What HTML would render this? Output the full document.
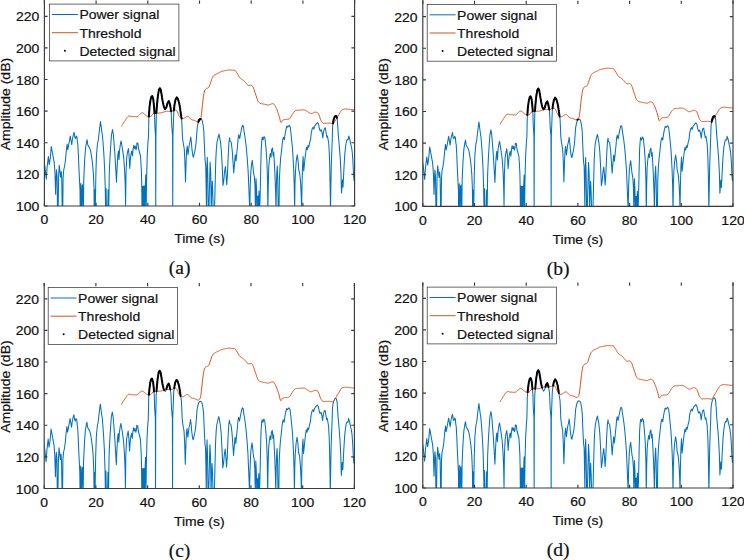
<!DOCTYPE html>
<html><head><meta charset="utf-8"><title>Detection thresholds</title>
<style>html,body{margin:0;padding:0;background:#fff;font-family:"Liberation Sans",sans-serif}svg{display:block}.t{font-family:"Liberation Sans",sans-serif;fill:#111;stroke:#111;stroke-width:0.2px}.cap{font-family:"Liberation Serif",serif;font-size:19.6px;fill:#111;stroke:#111;stroke-width:0.2px}</style></head>
<body>
<svg width="744" height="560" viewBox="0 0 744 560">
<rect width="744" height="560" fill="#fff"/>
<clipPath id="c0"><rect x="44.40" y="0.50" width="310.20" height="205.50"/></clipPath>
<g clip-path="url(#c0)" fill="none" stroke-linejoin="round">
<path d="M44.00 160.38 L45.00 167.25 L46.25 179.12 L47.12 167.25 L48.38 156.62 L49.25 164.75 L50.25 158.50 L51.25 146.62 L52.12 151.00 L53.00 156.00 L54.25 162.88 L55.00 173.50 L55.62 194.12 L56.12 178.50 L56.50 169.75 L57.12 176.00 L57.50 211.00 L58.12 211.00 L58.62 177.25 L59.25 165.38 L60.00 172.25 L60.62 177.25 L61.25 171.62 L61.75 178.50 L62.25 211.00 L62.75 211.00 L63.12 177.25 L63.75 169.75 L64.62 166.00 L65.50 159.75 L66.25 151.00 L67.12 144.12 L67.75 149.75 L68.38 146.62 L69.38 141.00 L70.25 136.00 L70.88 139.75 L71.75 144.75 L72.50 138.50 L73.38 134.75 L74.12 132.25 L74.75 137.25 L75.50 138.50 L76.25 136.00 L77.00 137.25 L77.50 143.50 L77.75 143.50 L78.38 154.75 L79.00 169.75 L79.62 182.25 L80.00 189.75 L80.25 211.00 L80.62 211.00 L80.88 183.50 L81.25 211.00 L81.62 211.00 L82.12 186.00 L82.50 184.75 L83.12 211.00 L83.38 211.00 L83.75 179.75 L84.62 161.00 L85.50 148.50 L86.50 142.25 L87.12 139.75 L87.75 144.75 L88.75 146.62 L89.62 147.88 L90.50 150.38 L91.50 156.00 L92.50 163.50 L93.38 173.50 L94.00 188.50 L94.25 211.00 L94.50 211.00 L94.62 189.75 L94.88 211.00 L95.25 211.00 L95.88 173.50 L96.50 154.75 L97.50 143.50 L98.38 139.75 L99.00 133.50 L99.62 128.50 L100.50 121.62 L101.25 127.25 L101.88 132.25 L102.50 136.00 L103.00 142.25 L103.75 152.25 L104.62 168.50 L105.25 188.50 L105.62 211.00 L106.12 188.50 L106.50 211.00 L107.75 211.00 L108.12 189.75 L108.75 211.00 L109.25 173.50 L110.00 157.25 L110.88 143.50 L111.50 134.75 L112.50 129.50 L113.38 134.75 L114.25 146.00 L115.00 156.00 L115.88 171.00 L116.50 182.25 L117.12 167.25 L117.75 156.00 L118.38 151.00 L119.00 159.75 L119.62 149.75 L120.50 143.50 L121.12 141.00 L121.75 144.75 L122.75 151.00 L123.75 158.50 L124.62 171.00 L125.25 186.00 L125.62 205.50 L126.00 173.50 L126.75 157.25 L127.50 152.25 L128.38 148.50 L129.00 154.75 L129.75 168.50 L130.25 161.00 L130.88 154.75 L131.75 151.00 L132.50 156.00 L133.00 149.75 L133.75 145.38 L134.50 148.50 L135.25 146.00 L136.00 149.75 L136.62 147.25 L137.00 142.88 L138.00 143.50 L138.50 148.50 L139.50 152.25 L140.50 156.00 L141.00 163.50 L141.50 173.50 L141.75 186.00 L142.00 211.00 L142.25 186.00 L142.62 211.00 L143.25 186.00 L143.62 211.00 L144.25 186.00 L144.75 211.00 L145.25 186.00 L145.75 174.75 L146.12 211.00 L146.50 186.00 L146.75 173.50 L147.25 154.75 L148.00 142.25 L148.50 136.00 L148.88 116.00 L149.50 107.25 L150.50 99.75 L151.38 96.62 L152.25 96.00 L153.25 99.12 L153.88 104.75 L154.50 112.88 L154.88 126.00 L155.56 136.00 L155.75 211.00 L155.94 136.00 L156.38 112.88 L157.00 104.75 L157.88 96.00 L158.88 89.75 L159.88 88.12 L160.75 89.75 L161.62 94.75 L162.62 101.00 L163.88 106.62 L165.12 109.12 L166.38 107.25 L167.62 102.88 L168.88 101.00 L169.75 103.50 L170.50 107.25 L171.12 111.00 L171.75 126.00 L172.56 136.00 L172.75 211.00 L172.94 136.00 L173.88 110.38 L174.50 104.75 L175.50 99.75 L176.75 97.25 L178.00 99.12 L179.25 103.50 L180.12 108.50 L181.00 114.75 L181.62 118.50 L182.00 126.00 L182.38 136.00 L182.75 139.75 L183.50 144.75 L184.25 148.50 L184.88 161.00 L185.50 181.62 L186.12 161.00 L186.62 151.00 L187.25 146.00 L188.00 154.75 L188.62 149.75 L189.25 144.75 L190.12 141.00 L190.75 137.00 L191.38 142.25 L192.00 149.75 L192.88 156.00 L193.50 157.25 L194.25 153.50 L195.12 149.75 L196.00 143.50 L196.62 136.00 L197.25 127.25 L198.12 122.88 L199.00 120.00 L199.88 119.12 L200.75 118.88 L201.62 119.38 L202.38 121.00 L203.25 126.00 L203.88 132.25 L204.25 142.25 L204.62 151.00 L205.12 161.00 L205.75 166.00 L206.12 186.00 L206.50 211.00 L206.75 173.50 L207.25 157.25 L207.75 173.50 L208.25 211.00 L208.88 211.00 L209.50 186.00 L210.12 162.25 L210.75 173.50 L211.25 211.00 L211.75 192.25 L212.25 181.00 L212.75 192.25 L213.25 211.00 L214.50 211.00 L215.12 186.00 L215.75 161.00 L216.38 148.50 L217.00 142.25 L218.00 137.88 L219.00 134.12 L219.75 137.88 L220.50 142.25 L221.38 151.00 L222.25 167.25 L223.00 185.38 L223.88 179.75 L224.50 172.25 L225.38 166.62 L226.00 173.50 L226.75 184.75 L227.50 173.50 L228.25 154.75 L229.00 142.25 L229.62 137.88 L230.00 141.00 L231.25 142.25 L232.25 151.00 L233.12 163.50 L233.75 172.88 L234.50 163.50 L235.25 154.75 L236.00 161.00 L236.88 152.25 L237.75 143.50 L238.12 138.50 L238.75 134.75 L239.75 138.50 L240.62 133.50 L241.62 128.50 L242.50 125.38 L243.38 126.00 L244.00 131.00 L245.00 137.25 L245.50 141.00 L246.25 147.25 L247.25 158.50 L248.12 171.00 L248.75 186.00 L249.38 201.00 L249.75 211.00 L250.25 186.00 L250.88 171.00 L251.50 164.75 L252.25 160.38 L252.88 166.00 L253.50 172.25 L254.38 177.25 L255.00 186.00 L255.50 211.00 L256.00 178.50 L256.50 188.50 L257.00 211.00 L257.75 196.00 L258.25 211.00 L259.00 191.00 L259.50 211.00 L260.00 201.00 L260.38 186.00 L260.75 167.25 L261.25 148.50 L261.88 139.75 L262.25 137.25 L263.12 139.75 L264.00 136.62 L265.00 138.50 L266.00 148.50 L266.88 161.00 L267.50 179.75 L267.88 211.00 L268.25 186.00 L268.75 167.25 L269.38 159.75 L270.25 153.50 L271.00 157.25 L271.62 149.75 L272.50 147.88 L273.12 156.00 L273.75 152.25 L274.38 163.50 L275.00 176.00 L275.62 192.25 L276.00 211.00 L276.38 186.00 L276.75 173.50 L277.25 166.00 L277.75 179.75 L278.25 211.00 L279.00 211.00 L279.38 179.75 L280.00 167.25 L280.62 158.50 L281.50 151.00 L282.25 143.50 L282.75 139.75 L283.50 137.25 L284.38 139.75 L285.00 134.75 L285.88 129.75 L286.88 126.00 L287.75 127.25 L288.50 126.00 L289.38 125.38 L290.25 127.25 L291.00 133.50 L291.88 142.25 L292.50 148.50 L293.12 158.50 L293.75 171.00 L294.25 186.00 L294.62 211.00 L295.00 183.50 L295.50 171.00 L296.25 161.00 L297.25 154.75 L298.12 161.00 L298.75 169.75 L299.75 173.50 L300.62 183.50 L301.25 196.00 L301.62 211.00 L302.00 186.00 L302.50 167.25 L303.12 156.62 L303.75 171.00 L304.38 164.75 L305.00 158.50 L305.75 152.25 L306.50 147.25 L307.25 149.75 L308.00 145.38 L308.75 147.25 L309.75 142.25 L310.62 139.12 L311.25 132.88 L312.25 128.50 L313.12 127.25 L313.75 129.12 L314.75 126.00 L316.00 124.12 L317.50 122.50 L318.50 124.12 L319.38 128.50 L320.25 131.00 L321.25 129.75 L322.25 133.50 L322.75 137.88 L323.50 132.25 L324.38 128.50 L325.25 127.88 L326.00 132.25 L326.88 137.25 L327.50 136.00 L328.12 139.75 L328.75 143.50 L329.38 154.75 L329.75 167.25 L330.12 186.00 L330.50 211.00 L330.88 186.00 L331.25 167.25 L331.88 148.50 L332.25 139.75 L332.62 126.00 L333.12 122.25 L333.75 119.12 L334.75 116.62 L335.62 115.75 L336.50 116.25 L337.25 119.12 L337.75 126.00 L338.38 136.00 L338.88 141.00 L339.50 148.50 L340.25 158.50 L341.00 173.50 L341.50 192.88 L342.00 186.00 L342.50 179.75 L343.00 187.25 L343.50 177.25 L344.00 167.25 L344.75 154.75 L345.62 146.00 L346.50 141.00 L347.25 139.50 L348.12 139.75 L348.75 136.00 L349.75 139.12 L350.62 143.50 L351.50 147.25 L352.25 152.25 L352.88 161.00 L353.50 173.50 L354.00 180.38 L354.50 174.75" stroke="#0072BD" stroke-width="1.05"/>
<path d="M121.50 126.40 L122.00 125.51 L122.50 124.67 L123.00 123.85 L123.50 123.06 L124.00 122.28 L124.50 121.52 L125.00 120.77 L125.50 120.02 L126.00 119.24 L126.50 118.47 L127.00 117.74 L127.50 117.09 L128.00 116.55 L128.50 116.18 L129.00 116.00 L129.50 115.99 L130.00 116.07 L130.50 116.20 L131.00 116.32 L131.50 116.40 L132.00 116.44 L132.50 116.49 L133.00 116.53 L133.50 116.58 L134.00 116.62 L134.50 116.65 L135.00 116.68 L135.50 116.68 L136.00 116.68 L136.50 116.65 L137.00 116.60 L137.50 116.44 L138.00 116.13 L138.50 115.73 L139.00 115.31 L139.50 114.81 L140.00 114.25 L140.50 113.72 L141.00 113.31 L141.50 113.00 L142.00 112.83 L142.50 112.87 L143.00 113.08 L143.50 113.37 L144.00 113.72 L144.50 114.10 L145.00 114.53 L145.50 114.99 L146.00 115.43 L146.50 115.82 L147.00 116.12 L147.50 116.35 L148.00 116.53 L148.50 116.66 L149.00 116.71 L149.50 116.70 L150.00 116.62 L150.50 116.47 L151.00 116.20 L151.50 115.83 L152.00 115.40 L152.50 114.59 L153.00 113.69 L153.50 113.46 L154.00 113.40 L154.50 113.34 L155.00 113.30 L155.50 113.27 L156.00 113.23 L156.50 113.21 L157.00 113.18 L157.50 113.15 L158.00 113.12 L158.50 113.08 L159.00 113.05 L159.50 113.02 L160.00 112.98 L160.50 112.93 L161.00 112.86 L161.50 112.76 L162.00 112.63 L162.50 112.48 L163.00 112.32 L163.50 112.17 L164.00 112.00 L164.50 111.81 L165.00 111.62 L165.50 111.46 L166.00 111.35 L166.50 111.28 L167.00 111.25 L167.50 111.25 L168.00 111.25 L168.50 111.26 L169.00 111.29 L169.50 111.35 L170.00 111.40 L170.50 111.41 L171.00 111.37 L171.50 111.28 L172.00 111.14 L172.50 110.99 L173.00 110.83 L173.50 110.67 L174.00 110.46 L174.50 110.24 L175.00 110.03 L175.50 109.95 L176.00 110.12 L176.50 110.49 L177.00 111.15 L177.50 112.05 L178.00 113.19 L178.50 114.50 L179.00 115.59 L179.50 116.42 L180.00 117.11 L180.50 117.67 L181.00 118.11 L181.50 118.48 L182.00 118.72 L182.50 118.77 L183.00 118.63 L183.50 118.43 L184.00 118.19 L184.50 117.90 L185.00 117.57 L185.50 117.21 L186.00 116.86 L186.50 116.54 L187.00 116.32 L187.50 116.25 L188.00 116.36 L188.50 116.66 L189.00 117.09 L189.50 117.67 L190.00 118.32 L190.50 118.89 L191.00 119.27 L191.50 119.56 L192.00 119.79 L192.50 119.97 L193.00 120.09 L193.50 120.16 L194.00 120.25 L194.50 120.40 L195.00 120.62 L195.50 120.84 L196.00 121.07 L196.50 121.29 L197.00 121.51 L197.50 121.71 L198.00 121.90 L198.50 122.03 L199.00 121.77 L199.50 121.23 L200.00 120.60 L200.50 119.73 L201.00 117.50 L201.50 113.59 L202.00 109.08 L202.50 104.34 L203.00 99.96 L203.50 96.29 L204.00 93.26 L204.50 91.04 L205.00 89.83 L205.50 89.14 L206.00 88.66 L206.50 88.39 L207.00 88.26 L207.50 88.15 L208.00 87.96 L208.50 87.65 L209.00 87.10 L209.50 85.97 L210.00 84.41 L210.50 82.80 L211.00 81.31 L211.50 79.85 L212.00 78.49 L212.50 77.34 L213.00 76.46 L213.50 75.83 L214.00 75.40 L214.50 75.04 L215.00 74.70 L215.50 74.39 L216.00 74.12 L216.50 73.89 L217.00 73.67 L217.50 73.46 L218.00 73.24 L218.50 73.02 L219.00 72.77 L219.50 72.47 L220.00 72.14 L220.50 71.84 L221.00 71.59 L221.50 71.43 L222.00 71.29 L222.50 71.17 L223.00 71.06 L223.50 70.95 L224.00 70.85 L224.50 70.74 L225.00 70.63 L225.50 70.53 L226.00 70.42 L226.50 70.33 L227.00 70.23 L227.50 70.15 L228.00 70.09 L228.50 70.04 L229.00 70.01 L229.50 70.00 L230.00 70.00 L230.50 70.03 L231.00 70.07 L231.50 70.14 L232.00 70.20 L232.50 70.25 L233.00 70.26 L233.50 70.24 L234.00 70.21 L234.50 70.22 L235.00 70.34 L235.50 70.80 L236.00 71.50 L236.50 72.31 L237.00 73.15 L237.50 74.00 L238.00 74.87 L238.50 75.74 L239.00 76.60 L239.50 77.36 L240.00 77.96 L240.50 78.42 L241.00 78.78 L241.50 79.10 L242.00 79.41 L242.50 79.75 L243.00 80.11 L243.50 80.48 L244.00 80.88 L244.50 81.35 L245.00 81.90 L245.50 82.50 L246.00 83.10 L246.50 83.73 L247.00 84.40 L247.50 85.00 L248.00 85.39 L248.50 85.55 L249.00 85.59 L249.50 85.60 L250.00 85.52 L250.50 85.36 L251.00 85.25 L251.50 85.31 L252.00 85.66 L252.50 86.25 L253.00 87.02 L253.50 88.07 L254.00 89.50 L254.50 91.00 L255.00 92.50 L255.50 94.00 L256.00 95.50 L256.50 97.00 L257.00 98.50 L257.50 100.00 L258.00 101.21 L258.50 101.98 L259.00 102.49 L259.50 102.93 L260.00 103.27 L260.50 103.48 L261.00 103.58 L261.50 103.68 L262.00 103.78 L262.50 103.88 L263.00 103.98 L263.50 104.08 L264.00 104.18 L264.50 104.28 L265.00 104.38 L265.50 104.48 L266.00 104.58 L266.50 104.68 L267.00 104.78 L267.50 104.88 L268.00 104.98 L268.50 105.01 L269.00 104.89 L269.50 104.69 L270.00 104.50 L270.50 104.32 L271.00 104.11 L271.50 103.90 L272.00 103.72 L272.50 103.64 L273.00 103.68 L273.50 103.86 L274.00 104.19 L274.50 104.79 L275.00 105.60 L275.50 106.52 L276.00 107.54 L276.50 108.69 L277.00 109.92 L277.50 111.25 L278.00 112.69 L278.50 114.21 L279.00 115.82 L279.50 117.60 L280.00 119.65 L280.50 122.06 L281.00 122.57 L281.50 122.13 L282.00 121.47 L282.50 120.69 L283.00 120.06 L283.50 119.83 L284.00 119.66 L284.50 119.56 L285.00 119.50 L285.50 119.47 L286.00 119.45 L286.50 119.43 L287.00 119.39 L287.50 119.34 L288.00 119.27 L288.50 119.17 L289.00 119.00 L289.50 118.62 L290.00 118.07 L290.50 117.40 L291.00 116.62 L291.50 115.77 L292.00 114.90 L292.50 114.10 L293.00 113.37 L293.50 112.68 L294.00 112.05 L294.50 111.50 L295.00 111.03 L295.50 110.68 L296.00 110.46 L296.50 110.37 L297.00 110.31 L297.50 110.26 L298.00 110.21 L298.50 110.18 L299.00 110.15 L299.50 110.12 L300.00 110.10 L300.50 110.07 L301.00 110.02 L301.50 109.97 L302.00 109.92 L302.50 109.87 L303.00 109.85 L303.50 109.85 L304.00 109.89 L304.50 109.97 L305.00 110.10 L305.50 110.32 L306.00 110.63 L306.50 110.97 L307.00 111.32 L307.50 111.65 L308.00 111.99 L308.50 112.33 L309.00 112.66 L309.50 112.97 L310.00 113.24 L310.50 113.46 L311.00 113.59 L311.50 113.56 L312.00 113.42 L312.50 113.25 L313.00 113.01 L313.50 112.71 L314.00 112.42 L314.50 112.22 L315.00 112.15 L315.50 112.16 L316.00 112.22 L316.50 112.29 L317.00 112.45 L317.50 112.72 L318.00 113.14 L318.50 113.85 L319.00 114.96 L319.50 116.28 L320.00 117.93 L320.50 119.50 L321.00 120.58 L321.50 121.43 L322.00 122.14 L322.50 122.82 L323.00 123.23 L323.50 123.27 L324.00 123.28 L324.50 123.28 L325.00 123.27 L325.50 123.25 L326.00 123.23 L326.50 123.21 L327.00 123.18 L327.50 123.15 L328.00 123.13 L328.50 123.11 L329.00 123.10 L329.50 123.12 L330.00 123.17 L330.50 123.23 L331.00 123.31 L331.50 123.38 L332.00 123.45 L332.50 123.50 L333.00 123.57 L333.50 123.48 L334.00 122.88 L334.50 121.94 L335.00 121.00 L335.50 120.19 L336.00 119.38 L336.50 118.57 L337.00 117.73 L337.50 116.88 L338.00 116.03 L338.50 115.18 L339.00 114.32 L339.50 113.47 L340.00 112.62 L340.50 111.77 L341.00 111.00 L341.50 110.45 L342.00 110.05 L342.50 109.75 L343.00 109.50 L343.50 109.29 L344.00 109.15 L344.50 109.09 L345.00 109.07 L345.50 109.05 L346.00 109.03 L346.50 109.04 L347.00 109.06 L347.50 109.10 L348.00 109.16 L348.50 109.23 L349.00 109.30 L349.50 109.37 L350.00 109.44 L350.50 109.49 L351.00 109.53 L351.50 109.57 L352.00 109.61 L352.50 109.65 L353.00 109.68 L353.50 109.71 L354.00 109.73 L354.50 109.75" stroke="#D95319" stroke-width="1"/>
<path d="M148.86 116.60 L148.87 116.20 L148.89 115.80 L148.92 115.40 L148.95 115.00 L148.97 114.60 L149.00 114.20 L149.03 113.80 L149.06 113.40 L149.09 113.01 L149.12 112.61 L149.15 112.21 L149.17 111.81 L149.20 111.41 L149.23 111.01 L149.26 110.61 L149.29 110.21 L149.32 109.81 L149.35 109.41 L149.37 109.02 L149.40 108.62 L149.43 108.22 L149.46 107.82 L149.49 107.42 L149.53 107.02 L149.58 106.63 L149.64 106.23 L149.69 105.83 L149.74 105.44 L149.79 105.04 L149.85 104.64 L149.90 104.25 L149.95 103.85 L150.01 103.45 L150.06 103.06 L150.11 102.66 L150.16 102.26 L150.22 101.87 L150.27 101.47 L150.32 101.08 L150.38 100.68 L150.43 100.28 L150.48 99.89 L150.57 99.50 L150.68 99.11 L150.79 98.73 L150.89 98.34 L151.00 97.96 L151.11 97.57 L151.22 97.19 L151.33 96.80 L151.55 96.50 L151.88 96.27 L152.20 96.03 L152.35 96.33 L152.48 96.71 L152.60 97.09 L152.72 97.47 L152.84 97.85 L152.96 98.23 L153.09 98.61 L153.21 98.99 L153.28 99.39 L153.32 99.78 L153.37 100.18 L153.41 100.58 L153.46 100.98 L153.50 101.37 L153.54 101.77 L153.59 102.17 L153.63 102.57 L153.68 102.96 L153.72 103.36 L153.76 103.76 L153.81 104.16 L153.85 104.55 L153.89 104.95 L153.92 105.35 L153.95 105.75 L153.98 106.15 L154.01 106.55 L154.04 106.95 L154.07 107.34 L154.11 107.74 L154.14 108.14 L154.17 108.54 L154.20 108.94 L154.23 109.34 L154.26 109.74 L154.29 110.14 L154.32 110.53 L154.35 110.93 L154.38 111.33 L154.41 111.73 L154.44 112.13 L154.47 112.53 L154.50 112.93 L154.51 113.33 M156.37 113.11 L156.39 112.71 L156.42 112.31 L156.45 111.91 L156.48 111.51 L156.51 111.11 L156.54 110.71 L156.57 110.31 L156.60 109.91 L156.63 109.52 L156.66 109.12 L156.69 108.72 L156.73 108.32 L156.76 107.92 L156.79 107.52 L156.82 107.12 L156.85 106.72 L156.88 106.32 L156.91 105.93 L156.94 105.53 L156.97 105.13 L157.00 104.73 L157.04 104.33 L157.08 103.93 L157.12 103.54 L157.16 103.14 L157.20 102.74 L157.24 102.34 L157.28 101.94 L157.32 101.55 L157.36 101.15 L157.40 100.75 L157.44 100.35 L157.48 99.95 L157.52 99.56 L157.56 99.16 L157.60 98.76 L157.64 98.36 L157.68 97.96 L157.72 97.57 L157.76 97.17 L157.80 96.77 L157.84 96.37 L157.88 95.97 L157.94 95.58 L158.01 95.18 L158.07 94.79 L158.13 94.39 L158.20 94.00 L158.26 93.60 L158.32 93.21 L158.38 92.81 L158.45 92.42 L158.51 92.02 L158.57 91.63 L158.64 91.23 L158.70 90.84 L158.76 90.44 L158.83 90.05 L158.93 89.67 L159.14 89.33 L159.35 88.99 L159.55 88.65 L159.76 88.30 L159.96 88.29 L160.15 88.64 L160.34 89.00 L160.53 89.35 L160.72 89.70 L160.81 90.09 L160.88 90.48 L160.95 90.88 L161.02 91.27 L161.09 91.66 L161.15 92.06 L161.22 92.45 L161.29 92.85 L161.36 93.24 L161.43 93.63 L161.50 94.03 L161.57 94.42 L161.64 94.82 L161.70 95.21 L161.76 95.61 L161.83 96.00 L161.89 96.40 L161.95 96.79 L162.01 97.19 L162.08 97.58 L162.14 97.98 L162.20 98.37 L162.27 98.77 L162.33 99.16 L162.39 99.56 L162.46 99.95 L162.52 100.35 L162.58 100.74 L162.65 101.13 L162.74 101.53 L162.83 101.92 L162.92 102.31 L163.00 102.70 L163.09 103.09 L163.18 103.48 L163.26 103.87 L163.35 104.26 L163.44 104.65 L163.52 105.04 L163.61 105.43 L163.70 105.82 L163.78 106.21 L163.87 106.60 L164.04 106.96 L164.22 107.32 L164.40 107.68 L164.58 108.03 L164.76 108.39 L164.94 108.75 L165.12 109.11 L165.34 108.81 L165.56 108.48 L165.78 108.14 L166.00 107.81 L166.22 107.48 L166.41 107.13 L166.52 106.74 L166.63 106.36 L166.74 105.97 L166.85 105.59 L166.96 105.20 L167.07 104.82 L167.18 104.44 L167.29 104.05 L167.40 103.67 L167.51 103.28 L167.62 102.90 L167.83 102.56 L168.06 102.23 L168.28 101.90 L168.50 101.56 L168.72 101.23 L168.92 101.12 L169.05 101.49 L169.18 101.87 L169.31 102.25 L169.44 102.63 L169.58 103.00 L169.71 103.38 L169.80 103.77 L169.88 104.16 L169.96 104.55 L170.04 104.95 L170.12 105.34 L170.20 105.73 L170.27 106.12 L170.35 106.52 L170.43 106.91 L170.51 107.30 L170.57 107.69 L170.64 108.09 L170.71 108.48 L170.77 108.88 L170.84 109.27 L170.90 109.67 L170.97 110.06 L171.03 110.46 L171.10 110.85 L171.14 111.25 M173.87 110.41 L173.91 110.02 L173.96 109.62 L174.00 109.22 L174.05 108.82 L174.09 108.43 L174.14 108.03 L174.18 107.63 L174.22 107.23 L174.27 106.84 L174.31 106.44 L174.36 106.04 L174.40 105.64 L174.44 105.25 L174.49 104.85 L174.56 104.45 L174.64 104.06 L174.72 103.67 L174.79 103.28 L174.87 102.89 L174.95 102.49 L175.03 102.10 L175.11 101.71 L175.19 101.32 L175.27 100.92 L175.34 100.53 L175.42 100.14 L175.50 99.75 L175.68 99.39 L175.86 99.03 L176.04 98.67 L176.22 98.32 L176.40 97.96 L176.57 97.60 L176.75 97.26 L176.98 97.59 L177.20 97.92 L177.42 98.25 L177.64 98.59 L177.86 98.92 L178.04 99.27 L178.15 99.66 L178.26 100.04 L178.37 100.43 L178.48 100.81 L178.59 101.20 L178.70 101.58 L178.81 101.96 L178.92 102.35 L179.03 102.73 L179.14 103.12 L179.25 103.50 L179.32 103.90 L179.39 104.29 L179.46 104.69 L179.53 105.08 L179.60 105.47 L179.66 105.87 L179.73 106.26 L179.80 106.66 L179.87 107.05 L179.94 107.44 L180.01 107.84 L180.08 108.23 L180.14 108.63 L180.20 109.02 L180.25 109.42 L180.31 109.81 L180.36 110.21 L180.42 110.61 L180.48 111.00 L180.53 111.40 L180.59 111.80 L180.64 112.19 L180.70 112.59 L180.75 112.98 L180.81 113.38 L180.86 113.78 L180.92 114.17 L180.97 114.57 L181.04 114.96 L181.10 115.36 L181.17 115.75 L181.23 116.15 L181.30 116.54 L181.36 116.94 L181.43 117.33 L181.50 117.73 L181.56 118.12 L181.63 118.51 M198.41 121.93 L198.53 121.55 L198.65 121.17 L198.76 120.78 L198.88 120.40 L198.99 120.02 L199.27 119.73 L199.55 119.45 L199.84 119.16 L200.21 119.03 L200.59 118.92 M332.97 123.38 L333.03 122.99 L333.08 122.59 L333.14 122.19 L333.21 121.80 L333.29 121.41 L333.37 121.02 L333.45 120.63 L333.53 120.23 L333.61 119.84 L333.69 119.45 L333.78 119.06 L333.92 118.69 L334.07 118.32 L334.22 117.95 L334.37 117.57 L334.52 117.20 L334.67 116.83 L334.88 116.50 L335.16 116.22 L335.44 115.93 L335.75 115.82 L336.09 116.02 L336.44 116.22 L336.58 116.57 L336.68 116.96 L336.79 117.35 L336.89 117.73" stroke="#000" stroke-width="2.0" stroke-linecap="round"/>
</g>
<g stroke="#3a3a3a" stroke-width="1.15" fill="none">
<path d="M44.40 -1.50 V206.00 H354.60 V-1.50"/>
<path d="M44.40 206.00 v-3.20 M44.40 0.50 v3.20 M96.10 206.00 v-3.20 M96.10 0.50 v3.20 M147.80 206.00 v-3.20 M147.80 0.50 v3.20 M199.50 206.00 v-3.20 M199.50 0.50 v3.20 M251.20 206.00 v-3.20 M251.20 0.50 v3.20 M302.90 206.00 v-3.20 M302.90 0.50 v3.20 M354.60 206.00 v-3.20 M354.60 0.50 v3.20 M44.40 206.00 h3.20 M354.60 206.00 h-3.20 M44.40 174.38 h3.20 M354.60 174.38 h-3.20 M44.40 142.77 h3.20 M354.60 142.77 h-3.20 M44.40 111.15 h3.20 M354.60 111.15 h-3.20 M44.40 79.54 h3.20 M354.60 79.54 h-3.20 M44.40 47.92 h3.20 M354.60 47.92 h-3.20 M44.40 16.31 h3.20 M354.60 16.31 h-3.20 "/>
</g>
<g class="t" font-size="13.3">
<text transform="translate(44.40 224.30) scale(1.050 1)" text-anchor="middle">0</text>
<text transform="translate(96.10 224.30) scale(1.050 1)" text-anchor="middle">20</text>
<text transform="translate(147.80 224.30) scale(1.050 1)" text-anchor="middle">40</text>
<text transform="translate(199.50 224.30) scale(1.050 1)" text-anchor="middle">60</text>
<text transform="translate(251.20 224.30) scale(1.050 1)" text-anchor="middle">80</text>
<text transform="translate(302.90 224.30) scale(1.050 1)" text-anchor="middle">100</text>
<text transform="translate(354.60 224.30) scale(1.050 1)" text-anchor="middle">120</text>
<text transform="translate(39.20 211.00) scale(1.050 1)" text-anchor="end">100</text>
<text transform="translate(39.20 179.38) scale(1.050 1)" text-anchor="end">120</text>
<text transform="translate(39.20 147.77) scale(1.050 1)" text-anchor="end">140</text>
<text transform="translate(39.20 116.15) scale(1.050 1)" text-anchor="end">160</text>
<text transform="translate(39.20 84.54) scale(1.050 1)" text-anchor="end">180</text>
<text transform="translate(39.20 52.92) scale(1.050 1)" text-anchor="end">200</text>
<text transform="translate(39.20 21.31) scale(1.050 1)" text-anchor="end">220</text>
<text transform="translate(199.50 243.40) scale(1.050 1)" text-anchor="middle">Time (s)</text>
<text transform="translate(9.70 104.05) rotate(-90) scale(1.050 1)" text-anchor="middle">Amplitude (dB)</text>
<rect x="49.50" y="4.10" width="129.40" height="56.80" fill="#fff" stroke="#3a3a3a" stroke-width="0.75"/>
<path d="M51.90 14.50 h26" stroke="#0072BD" stroke-width="1"/>
<path d="M51.90 32.70 h26" stroke="#D95319" stroke-width="1"/>
<circle cx="64.90" cy="50.80" r="1.0" fill="#000" stroke="none"/>
<text transform="translate(79.40 19.30) scale(1.050 1)">Power signal</text>
<text transform="translate(79.40 37.50) scale(1.050 1)">Threshold</text>
<text transform="translate(79.40 55.70) scale(1.050 1)">Detected signal</text>
</g>
<text x="179.70" y="274.30" class="cap" text-anchor="middle">(a)</text>
<clipPath id="c1"><rect x="422.80" y="0.80" width="310.20" height="205.50"/></clipPath>
<g clip-path="url(#c1)" fill="none" stroke-linejoin="round">
<path d="M422.40 160.68 L423.40 167.55 L424.65 179.43 L425.53 167.55 L426.78 156.93 L427.65 165.05 L428.65 158.80 L429.65 146.93 L430.53 151.30 L431.40 156.30 L432.65 163.18 L433.40 173.80 L434.03 194.43 L434.53 178.80 L434.90 170.05 L435.53 176.30 L435.90 211.30 L436.53 211.30 L437.03 177.55 L437.65 165.68 L438.40 172.55 L439.03 177.55 L439.65 171.93 L440.15 178.80 L440.65 211.30 L441.15 211.30 L441.53 177.55 L442.15 170.05 L443.03 166.30 L443.90 160.05 L444.65 151.30 L445.53 144.43 L446.15 150.05 L446.78 146.93 L447.78 141.30 L448.65 136.30 L449.28 140.05 L450.15 145.05 L450.90 138.80 L451.78 135.05 L452.53 132.55 L453.15 137.55 L453.90 138.80 L454.65 136.30 L455.40 137.55 L455.90 143.80 L456.15 143.80 L456.78 155.05 L457.40 170.05 L458.03 182.55 L458.40 190.05 L458.65 211.30 L459.03 211.30 L459.28 183.80 L459.65 211.30 L460.03 211.30 L460.53 186.30 L460.90 185.05 L461.53 211.30 L461.78 211.30 L462.15 180.05 L463.03 161.30 L463.90 148.80 L464.90 142.55 L465.53 140.05 L466.15 145.05 L467.15 146.93 L468.03 148.18 L468.90 150.68 L469.90 156.30 L470.90 163.80 L471.78 173.80 L472.40 188.80 L472.65 211.30 L472.90 211.30 L473.03 190.05 L473.28 211.30 L473.65 211.30 L474.28 173.80 L474.90 155.05 L475.90 143.80 L476.78 140.05 L477.40 133.80 L478.03 128.80 L478.90 121.93 L479.65 127.55 L480.28 132.55 L480.90 136.30 L481.40 142.55 L482.15 152.55 L483.03 168.80 L483.65 188.80 L484.03 211.30 L484.53 188.80 L484.90 211.30 L486.15 211.30 L486.53 190.05 L487.15 211.30 L487.65 173.80 L488.40 157.55 L489.28 143.80 L489.90 135.05 L490.90 129.80 L491.78 135.05 L492.65 146.30 L493.40 156.30 L494.28 171.30 L494.90 182.55 L495.53 167.55 L496.15 156.30 L496.78 151.30 L497.40 160.05 L498.03 150.05 L498.90 143.80 L499.53 141.30 L500.15 145.05 L501.15 151.30 L502.15 158.80 L503.03 171.30 L503.65 186.30 L504.03 205.80 L504.40 173.80 L505.15 157.55 L505.90 152.55 L506.78 148.80 L507.40 155.05 L508.15 168.80 L508.65 161.30 L509.28 155.05 L510.15 151.30 L510.90 156.30 L511.40 150.05 L512.15 145.68 L512.90 148.80 L513.65 146.30 L514.40 150.05 L515.03 147.55 L515.40 143.18 L516.40 143.80 L516.90 148.80 L517.90 152.55 L518.90 156.30 L519.40 163.80 L519.90 173.80 L520.15 186.30 L520.40 211.30 L520.65 186.30 L521.03 211.30 L521.65 186.30 L522.03 211.30 L522.65 186.30 L523.15 211.30 L523.65 186.30 L524.15 175.05 L524.53 211.30 L524.90 186.30 L525.15 173.80 L525.65 155.05 L526.40 142.55 L526.90 136.30 L527.28 116.30 L527.90 107.55 L528.90 100.05 L529.78 96.93 L530.65 96.30 L531.65 99.43 L532.28 105.05 L532.90 113.18 L533.28 126.30 L533.96 136.30 L534.15 211.30 L534.34 136.30 L534.78 113.18 L535.40 105.05 L536.28 96.30 L537.28 90.05 L538.28 88.43 L539.15 90.05 L540.03 95.05 L541.03 101.30 L542.28 106.93 L543.53 109.43 L544.78 107.55 L546.03 103.18 L547.28 101.30 L548.15 103.80 L548.90 107.55 L549.53 111.30 L550.15 126.30 L550.96 136.30 L551.15 211.30 L551.34 136.30 L552.28 110.68 L552.90 105.05 L553.90 100.05 L555.15 97.55 L556.40 99.43 L557.65 103.80 L558.53 108.80 L559.40 115.05 L560.03 118.80 L560.40 126.30 L560.78 136.30 L561.15 140.05 L561.90 145.05 L562.65 148.80 L563.28 161.30 L563.90 181.93 L564.53 161.30 L565.03 151.30 L565.65 146.30 L566.40 155.05 L567.03 150.05 L567.65 145.05 L568.53 141.30 L569.15 137.30 L569.78 142.55 L570.40 150.05 L571.28 156.30 L571.90 157.55 L572.65 153.80 L573.53 150.05 L574.40 143.80 L575.03 136.30 L575.65 127.55 L576.53 123.18 L577.40 120.30 L578.28 119.43 L579.15 119.18 L580.03 119.68 L580.78 121.30 L581.65 126.30 L582.28 132.55 L582.65 142.55 L583.03 151.30 L583.53 161.30 L584.15 166.30 L584.53 186.30 L584.90 211.30 L585.15 173.80 L585.65 157.55 L586.15 173.80 L586.65 211.30 L587.28 211.30 L587.90 186.30 L588.53 162.55 L589.15 173.80 L589.65 211.30 L590.15 192.55 L590.65 181.30 L591.15 192.55 L591.65 211.30 L592.90 211.30 L593.53 186.30 L594.15 161.30 L594.78 148.80 L595.40 142.55 L596.40 138.18 L597.40 134.43 L598.15 138.18 L598.90 142.55 L599.78 151.30 L600.65 167.55 L601.40 185.68 L602.28 180.05 L602.90 172.55 L603.78 166.93 L604.40 173.80 L605.15 185.05 L605.90 173.80 L606.65 155.05 L607.40 142.55 L608.03 138.18 L608.40 141.30 L609.65 142.55 L610.65 151.30 L611.53 163.80 L612.15 173.18 L612.90 163.80 L613.65 155.05 L614.40 161.30 L615.28 152.55 L616.15 143.80 L616.53 138.80 L617.15 135.05 L618.15 138.80 L619.03 133.80 L620.03 128.80 L620.90 125.68 L621.78 126.30 L622.40 131.30 L623.40 137.55 L623.90 141.30 L624.65 147.55 L625.65 158.80 L626.53 171.30 L627.15 186.30 L627.78 201.30 L628.15 211.30 L628.65 186.30 L629.28 171.30 L629.90 165.05 L630.65 160.68 L631.28 166.30 L631.90 172.55 L632.78 177.55 L633.40 186.30 L633.90 211.30 L634.40 178.80 L634.90 188.80 L635.40 211.30 L636.15 196.30 L636.65 211.30 L637.40 191.30 L637.90 211.30 L638.40 201.30 L638.78 186.30 L639.15 167.55 L639.65 148.80 L640.28 140.05 L640.65 137.55 L641.53 140.05 L642.40 136.93 L643.40 138.80 L644.40 148.80 L645.28 161.30 L645.90 180.05 L646.28 211.30 L646.65 186.30 L647.15 167.55 L647.78 160.05 L648.65 153.80 L649.40 157.55 L650.03 150.05 L650.90 148.18 L651.53 156.30 L652.15 152.55 L652.78 163.80 L653.40 176.30 L654.03 192.55 L654.40 211.30 L654.78 186.30 L655.15 173.80 L655.65 166.30 L656.15 180.05 L656.65 211.30 L657.40 211.30 L657.78 180.05 L658.40 167.55 L659.03 158.80 L659.90 151.30 L660.65 143.80 L661.15 140.05 L661.90 137.55 L662.78 140.05 L663.40 135.05 L664.28 130.05 L665.28 126.30 L666.15 127.55 L666.90 126.30 L667.78 125.68 L668.65 127.55 L669.40 133.80 L670.28 142.55 L670.90 148.80 L671.53 158.80 L672.15 171.30 L672.65 186.30 L673.03 211.30 L673.40 183.80 L673.90 171.30 L674.65 161.30 L675.65 155.05 L676.53 161.30 L677.15 170.05 L678.15 173.80 L679.03 183.80 L679.65 196.30 L680.03 211.30 L680.40 186.30 L680.90 167.55 L681.53 156.93 L682.15 171.30 L682.78 165.05 L683.40 158.80 L684.15 152.55 L684.90 147.55 L685.65 150.05 L686.40 145.68 L687.15 147.55 L688.15 142.55 L689.03 139.43 L689.65 133.18 L690.65 128.80 L691.53 127.55 L692.15 129.43 L693.15 126.30 L694.40 124.43 L695.90 122.80 L696.90 124.43 L697.78 128.80 L698.65 131.30 L699.65 130.05 L700.65 133.80 L701.15 138.18 L701.90 132.55 L702.78 128.80 L703.65 128.18 L704.40 132.55 L705.28 137.55 L705.90 136.30 L706.53 140.05 L707.15 143.80 L707.78 155.05 L708.15 167.55 L708.53 186.30 L708.90 211.30 L709.28 186.30 L709.65 167.55 L710.28 148.80 L710.65 140.05 L711.03 126.30 L711.53 122.55 L712.15 119.43 L713.15 116.93 L714.03 116.05 L714.90 116.55 L715.65 119.43 L716.15 126.30 L716.78 136.30 L717.28 141.30 L717.90 148.80 L718.65 158.80 L719.40 173.80 L719.90 193.18 L720.40 186.30 L720.90 180.05 L721.40 187.55 L721.90 177.55 L722.40 167.55 L723.15 155.05 L724.03 146.30 L724.90 141.30 L725.65 139.80 L726.53 140.05 L727.15 136.30 L728.15 139.43 L729.03 143.80 L729.90 147.55 L730.65 152.55 L731.28 161.30 L731.90 173.80 L732.40 180.68 L732.90 175.05" stroke="#0072BD" stroke-width="1.05"/>
<path d="M499.90 124.60 L500.40 123.71 L500.90 122.87 L501.40 122.05 L501.90 121.26 L502.40 120.48 L502.90 119.72 L503.40 118.97 L503.90 118.22 L504.40 117.44 L504.90 116.67 L505.40 115.94 L505.90 115.29 L506.40 114.75 L506.90 114.38 L507.40 114.20 L507.90 114.19 L508.40 114.27 L508.90 114.40 L509.40 114.52 L509.90 114.60 L510.40 114.64 L510.90 114.69 L511.40 114.73 L511.90 114.78 L512.40 114.82 L512.90 114.85 L513.40 114.88 L513.90 114.88 L514.40 114.88 L514.90 114.85 L515.40 114.80 L515.90 114.64 L516.40 114.33 L516.90 113.93 L517.40 113.51 L517.90 113.01 L518.40 112.45 L518.90 111.92 L519.40 111.51 L519.90 111.20 L520.40 111.03 L520.90 111.07 L521.40 111.28 L521.90 111.57 L522.40 111.92 L522.90 112.30 L523.40 112.73 L523.90 113.19 L524.40 113.63 L524.90 114.02 L525.40 114.32 L525.90 114.55 L526.40 114.73 L526.90 114.86 L527.40 114.91 L527.90 114.90 L528.40 114.82 L528.90 114.67 L529.40 114.40 L529.90 114.03 L530.40 113.60 L530.90 112.79 L531.40 111.89 L531.90 111.66 L532.40 111.60 L532.90 111.54 L533.40 111.50 L533.90 111.47 L534.40 111.43 L534.90 111.41 L535.40 111.38 L535.90 111.35 L536.40 111.32 L536.90 111.28 L537.40 111.25 L537.90 111.22 L538.40 111.18 L538.90 111.13 L539.40 111.06 L539.90 110.96 L540.40 110.83 L540.90 110.68 L541.40 110.52 L541.90 110.37 L542.40 110.20 L542.90 110.01 L543.40 109.82 L543.90 109.66 L544.40 109.55 L544.90 109.48 L545.40 109.46 L545.90 109.45 L546.40 109.45 L546.90 109.46 L547.40 109.49 L547.90 109.55 L548.40 109.60 L548.90 109.61 L549.40 109.57 L549.90 109.48 L550.40 109.34 L550.90 109.19 L551.40 109.03 L551.90 108.87 L552.40 108.66 L552.90 108.44 L553.40 108.23 L553.90 108.15 L554.40 108.32 L554.90 108.69 L555.40 109.35 L555.90 110.25 L556.40 111.39 L556.90 112.70 L557.40 113.79 L557.90 114.62 L558.40 115.31 L558.90 115.87 L559.40 116.31 L559.90 116.68 L560.40 116.92 L560.90 116.97 L561.40 116.83 L561.90 116.63 L562.40 116.39 L562.90 116.10 L563.40 115.77 L563.90 115.41 L564.40 115.06 L564.90 114.74 L565.40 114.52 L565.90 114.45 L566.40 114.56 L566.90 114.86 L567.40 115.29 L567.90 115.87 L568.40 116.52 L568.90 117.09 L569.40 117.47 L569.90 117.76 L570.40 117.99 L570.90 118.17 L571.40 118.29 L571.90 118.36 L572.40 118.45 L572.90 118.60 L573.40 118.82 L573.90 119.04 L574.40 119.27 L574.90 119.49 L575.40 119.71 L575.90 119.91 L576.40 120.10 L576.90 120.23 L577.40 119.97 L577.90 119.43 L578.40 118.80 L578.90 117.93 L579.40 115.70 L579.90 111.79 L580.40 107.28 L580.90 102.54 L581.40 98.16 L581.90 94.49 L582.40 91.46 L582.90 89.24 L583.40 88.03 L583.90 87.34 L584.40 86.86 L584.90 86.59 L585.40 86.46 L585.90 86.35 L586.40 86.16 L586.90 85.85 L587.40 85.30 L587.90 84.17 L588.40 82.61 L588.90 81.00 L589.40 79.51 L589.90 78.05 L590.40 76.69 L590.90 75.54 L591.40 74.66 L591.90 74.03 L592.40 73.60 L592.90 73.24 L593.40 72.90 L593.90 72.59 L594.40 72.32 L594.90 72.09 L595.40 71.87 L595.90 71.66 L596.40 71.44 L596.90 71.22 L597.40 70.97 L597.90 70.67 L598.40 70.34 L598.90 70.04 L599.40 69.79 L599.90 69.63 L600.40 69.49 L600.90 69.37 L601.40 69.26 L601.90 69.15 L602.40 69.05 L602.90 68.94 L603.40 68.83 L603.90 68.73 L604.40 68.62 L604.90 68.53 L605.40 68.43 L605.90 68.35 L606.40 68.29 L606.90 68.24 L607.40 68.21 L607.90 68.20 L608.40 68.20 L608.90 68.23 L609.40 68.27 L609.90 68.34 L610.40 68.40 L610.90 68.45 L611.40 68.46 L611.90 68.44 L612.40 68.41 L612.90 68.42 L613.40 68.54 L613.90 69.00 L614.40 69.70 L614.90 70.51 L615.40 71.35 L615.90 72.20 L616.40 73.07 L616.90 73.94 L617.40 74.80 L617.90 75.56 L618.40 76.16 L618.90 76.62 L619.40 76.98 L619.90 77.30 L620.40 77.61 L620.90 77.95 L621.40 78.31 L621.90 78.68 L622.40 79.08 L622.90 79.55 L623.40 80.10 L623.90 80.70 L624.40 81.30 L624.90 81.93 L625.40 82.60 L625.90 83.20 L626.40 83.59 L626.90 83.75 L627.40 83.79 L627.90 83.80 L628.40 83.72 L628.90 83.56 L629.40 83.45 L629.90 83.51 L630.40 83.86 L630.90 84.45 L631.40 85.22 L631.90 86.27 L632.40 87.70 L632.90 89.20 L633.40 90.70 L633.90 92.20 L634.40 93.70 L634.90 95.20 L635.40 96.70 L635.90 98.20 L636.40 99.41 L636.90 100.18 L637.40 100.69 L637.90 101.13 L638.40 101.47 L638.90 101.68 L639.40 101.78 L639.90 101.88 L640.40 101.98 L640.90 102.08 L641.40 102.18 L641.90 102.28 L642.40 102.38 L642.90 102.48 L643.40 102.58 L643.90 102.68 L644.40 102.78 L644.90 102.88 L645.40 102.98 L645.90 103.08 L646.40 103.18 L646.90 103.21 L647.40 103.09 L647.90 102.89 L648.40 102.70 L648.90 102.52 L649.40 102.31 L649.90 102.10 L650.40 101.92 L650.90 101.84 L651.40 101.88 L651.90 102.06 L652.40 102.39 L652.90 102.99 L653.40 103.80 L653.90 104.72 L654.40 105.74 L654.90 106.89 L655.40 108.12 L655.90 109.45 L656.40 110.89 L656.90 112.41 L657.40 114.02 L657.90 115.80 L658.40 117.85 L658.90 120.26 L659.40 120.77 L659.90 120.33 L660.40 119.67 L660.90 118.89 L661.40 118.26 L661.90 118.03 L662.40 117.86 L662.90 117.76 L663.40 117.70 L663.90 117.67 L664.40 117.65 L664.90 117.63 L665.40 117.59 L665.90 117.54 L666.40 117.47 L666.90 117.37 L667.40 117.20 L667.90 116.82 L668.40 116.27 L668.90 115.60 L669.40 114.82 L669.90 113.97 L670.40 113.10 L670.90 112.30 L671.40 111.57 L671.90 110.88 L672.40 110.25 L672.90 109.70 L673.40 109.23 L673.90 108.88 L674.40 108.66 L674.90 108.57 L675.40 108.51 L675.90 108.46 L676.40 108.41 L676.90 108.38 L677.40 108.35 L677.90 108.32 L678.40 108.30 L678.90 108.27 L679.40 108.22 L679.90 108.17 L680.40 108.12 L680.90 108.07 L681.40 108.05 L681.90 108.05 L682.40 108.09 L682.90 108.17 L683.40 108.30 L683.90 108.52 L684.40 108.83 L684.90 109.17 L685.40 109.52 L685.90 109.85 L686.40 110.19 L686.90 110.53 L687.40 110.86 L687.90 111.17 L688.40 111.44 L688.90 111.66 L689.40 111.79 L689.90 111.76 L690.40 111.62 L690.90 111.45 L691.40 111.21 L691.90 110.91 L692.40 110.62 L692.90 110.42 L693.40 110.35 L693.90 110.36 L694.40 110.42 L694.90 110.49 L695.40 110.65 L695.90 110.92 L696.40 111.34 L696.90 112.05 L697.40 113.16 L697.90 114.48 L698.40 116.13 L698.90 117.70 L699.40 118.78 L699.90 119.63 L700.40 120.34 L700.90 121.02 L701.40 121.43 L701.90 121.47 L702.40 121.48 L702.90 121.48 L703.40 121.47 L703.90 121.45 L704.40 121.43 L704.90 121.41 L705.40 121.38 L705.90 121.35 L706.40 121.33 L706.90 121.31 L707.40 121.30 L707.90 121.32 L708.40 121.37 L708.90 121.43 L709.40 121.51 L709.90 121.58 L710.40 121.65 L710.90 121.70 L711.40 121.77 L711.90 121.68 L712.40 121.08 L712.90 120.14 L713.40 119.20 L713.90 118.39 L714.40 117.58 L714.90 116.77 L715.40 115.93 L715.90 115.08 L716.40 114.23 L716.90 113.38 L717.40 112.52 L717.90 111.67 L718.40 110.82 L718.90 109.97 L719.40 109.20 L719.90 108.65 L720.40 108.25 L720.90 107.95 L721.40 107.70 L721.90 107.49 L722.40 107.35 L722.90 107.29 L723.40 107.27 L723.90 107.25 L724.40 107.23 L724.90 107.24 L725.40 107.26 L725.90 107.30 L726.40 107.36 L726.90 107.43 L727.40 107.50 L727.90 107.57 L728.40 107.64 L728.90 107.69 L729.40 107.73 L729.90 107.77 L730.40 107.81 L730.90 107.85 L731.40 107.88 L731.90 107.91 L732.40 107.93 L732.90 107.95" stroke="#D95319" stroke-width="1"/>
<path d="M527.37 114.90 L527.40 114.50 L527.43 114.10 L527.46 113.70 L527.49 113.31 L527.52 112.91 L527.55 112.51 L527.57 112.11 L527.60 111.71 L527.63 111.31 L527.66 110.91 L527.69 110.51 L527.72 110.11 L527.75 109.71 L527.77 109.32 L527.80 108.92 L527.83 108.52 L527.86 108.12 L527.89 107.72 L527.93 107.32 L527.98 106.93 L528.04 106.53 L528.09 106.13 L528.14 105.74 L528.19 105.34 L528.25 104.94 L528.30 104.55 L528.35 104.15 L528.41 103.75 L528.46 103.36 L528.51 102.96 L528.56 102.56 L528.62 102.17 L528.67 101.77 L528.72 101.38 L528.78 100.98 L528.83 100.58 L528.88 100.19 L528.97 99.80 L529.08 99.41 L529.19 99.03 L529.29 98.64 L529.40 98.26 L529.51 97.87 L529.62 97.49 L529.73 97.10 L529.95 96.80 L530.28 96.57 L530.60 96.33 L530.75 96.63 L530.88 97.01 L531.00 97.39 L531.12 97.77 L531.24 98.15 L531.36 98.53 L531.49 98.91 L531.61 99.29 L531.68 99.69 L531.72 100.08 L531.77 100.48 L531.81 100.88 L531.86 101.28 L531.90 101.67 L531.94 102.07 L531.99 102.47 L532.03 102.87 L532.08 103.26 L532.12 103.66 L532.16 104.06 L532.21 104.46 L532.25 104.85 L532.29 105.25 L532.32 105.65 L532.35 106.05 L532.38 106.45 L532.41 106.85 L532.44 107.25 L532.47 107.64 L532.51 108.04 L532.54 108.44 L532.57 108.84 L532.60 109.24 L532.63 109.64 L532.66 110.04 L532.69 110.44 L532.72 110.83 L532.75 111.23 M534.94 111.01 L534.97 110.61 L535.00 110.21 L535.03 109.82 L535.06 109.42 L535.09 109.02 L535.13 108.62 L535.16 108.22 L535.19 107.82 L535.22 107.42 L535.25 107.02 L535.28 106.62 L535.31 106.23 L535.34 105.83 L535.37 105.43 L535.40 105.03 L535.44 104.63 L535.48 104.23 L535.52 103.84 L535.56 103.44 L535.60 103.04 L535.64 102.64 L535.68 102.24 L535.72 101.85 L535.76 101.45 L535.80 101.05 L535.84 100.65 L535.88 100.25 L535.92 99.86 L535.96 99.46 L536.00 99.06 L536.04 98.66 L536.08 98.26 L536.12 97.87 L536.16 97.47 L536.20 97.07 L536.24 96.67 L536.28 96.27 L536.34 95.88 L536.41 95.48 L536.47 95.09 L536.53 94.69 L536.60 94.30 L536.66 93.90 L536.72 93.51 L536.78 93.11 L536.85 92.72 L536.91 92.32 L536.97 91.93 L537.04 91.53 L537.10 91.14 L537.16 90.74 L537.23 90.35 L537.33 89.97 L537.54 89.63 L537.75 89.29 L537.95 88.95 L538.16 88.60 L538.36 88.59 L538.55 88.94 L538.74 89.30 L538.93 89.65 L539.12 90.00 L539.21 90.39 L539.28 90.78 L539.35 91.18 L539.42 91.57 L539.49 91.96 L539.55 92.36 L539.62 92.75 L539.69 93.15 L539.76 93.54 L539.83 93.93 L539.90 94.33 L539.97 94.72 L540.04 95.12 L540.10 95.51 L540.16 95.91 L540.23 96.30 L540.29 96.70 L540.35 97.09 L540.41 97.49 L540.48 97.88 L540.54 98.28 L540.60 98.67 L540.67 99.07 L540.73 99.46 L540.79 99.86 L540.86 100.25 L540.92 100.65 L540.98 101.04 L541.05 101.43 L541.14 101.83 L541.23 102.22 L541.32 102.61 L541.40 103.00 L541.49 103.39 L541.58 103.78 L541.66 104.17 L541.75 104.56 L541.84 104.95 L541.92 105.34 L542.01 105.73 L542.10 106.12 L542.18 106.51 L542.27 106.90 L542.44 107.26 L542.62 107.62 L542.80 107.98 L542.98 108.33 L543.16 108.69 L543.34 109.05 L543.52 109.41 L543.74 109.11 L543.96 108.78 L544.18 108.44 L544.40 108.11 L544.62 107.78 L544.81 107.43 L544.92 107.04 L545.03 106.66 L545.14 106.27 L545.25 105.89 L545.36 105.50 L545.47 105.12 L545.58 104.74 L545.69 104.35 L545.80 103.97 L545.91 103.58 L546.02 103.20 L546.23 102.86 L546.46 102.53 L546.68 102.20 L546.90 101.86 L547.12 101.53 L547.32 101.42 L547.45 101.79 L547.58 102.17 L547.71 102.55 L547.84 102.93 L547.98 103.30 L548.11 103.68 L548.20 104.07 L548.28 104.46 L548.36 104.85 L548.44 105.25 L548.52 105.64 L548.60 106.03 L548.67 106.42 L548.75 106.82 L548.83 107.21 L548.91 107.60 L548.97 107.99 L549.04 108.39 L549.11 108.78 L549.17 109.18 L549.24 109.57 M552.54 108.33 L552.58 107.93 L552.62 107.53 L552.67 107.14 L552.71 106.74 L552.76 106.34 L552.80 105.94 L552.84 105.55 L552.89 105.15 L552.96 104.75 L553.04 104.36 L553.12 103.97 L553.19 103.58 L553.27 103.19 L553.35 102.79 L553.43 102.40 L553.51 102.01 L553.59 101.62 L553.67 101.22 L553.74 100.83 L553.82 100.44 L553.90 100.05 L554.08 99.69 L554.26 99.33 L554.44 98.97 L554.62 98.62 L554.80 98.26 L554.97 97.90 L555.15 97.56 L555.38 97.89 L555.60 98.22 L555.82 98.55 L556.04 98.89 L556.26 99.22 L556.44 99.57 L556.55 99.96 L556.66 100.34 L556.77 100.73 L556.88 101.11 L556.99 101.50 L557.10 101.88 L557.21 102.26 L557.32 102.65 L557.43 103.03 L557.54 103.42 L557.65 103.80 L557.72 104.20 L557.79 104.59 L557.86 104.99 L557.93 105.38 L558.00 105.77 L558.06 106.17 L558.13 106.56 L558.20 106.96 L558.27 107.35 L558.34 107.74 L558.41 108.14 L558.48 108.53 L558.54 108.93 L558.60 109.32 L558.65 109.72 L558.71 110.11 L558.76 110.51 L558.82 110.91 L558.88 111.30 L558.93 111.70 L558.99 112.10 L559.04 112.49 L559.10 112.89 L559.15 113.28 L559.21 113.68 L559.26 114.08 L559.32 114.47 L559.37 114.87 L559.44 115.26 L559.50 115.66 L559.57 116.05 L559.63 116.45 M711.69 121.71 L711.77 121.32 L711.85 120.93 L711.93 120.53 L712.01 120.14 L712.09 119.75 L712.18 119.36 L712.32 118.99 L712.47 118.62 L712.62 118.25 L712.77 117.87 L712.92 117.50 L713.07 117.13 L713.28 116.80 L713.56 116.52 L713.84 116.23 L714.15 116.12 L714.49 116.32 L714.84 116.52" stroke="#000" stroke-width="2.0" stroke-linecap="round"/>
<circle cx="577.60" cy="119.60" r="1.15" fill="#000"/>
</g>
<g stroke="#3a3a3a" stroke-width="1.15" fill="none">
<path d="M422.80 -1.20 V206.30 H733.00 V-1.20"/>
<path d="M422.80 206.30 v-3.20 M422.80 0.80 v3.20 M474.50 206.30 v-3.20 M474.50 0.80 v3.20 M526.20 206.30 v-3.20 M526.20 0.80 v3.20 M577.90 206.30 v-3.20 M577.90 0.80 v3.20 M629.60 206.30 v-3.20 M629.60 0.80 v3.20 M681.30 206.30 v-3.20 M681.30 0.80 v3.20 M733.00 206.30 v-3.20 M733.00 0.80 v3.20 M422.80 206.30 h3.20 M733.00 206.30 h-3.20 M422.80 174.68 h3.20 M733.00 174.68 h-3.20 M422.80 143.07 h3.20 M733.00 143.07 h-3.20 M422.80 111.45 h3.20 M733.00 111.45 h-3.20 M422.80 79.84 h3.20 M733.00 79.84 h-3.20 M422.80 48.22 h3.20 M733.00 48.22 h-3.20 M422.80 16.61 h3.20 M733.00 16.61 h-3.20 "/>
</g>
<g class="t" font-size="13.3">
<text transform="translate(422.80 224.60) scale(1.050 1)" text-anchor="middle">0</text>
<text transform="translate(474.50 224.60) scale(1.050 1)" text-anchor="middle">20</text>
<text transform="translate(526.20 224.60) scale(1.050 1)" text-anchor="middle">40</text>
<text transform="translate(577.90 224.60) scale(1.050 1)" text-anchor="middle">60</text>
<text transform="translate(629.60 224.60) scale(1.050 1)" text-anchor="middle">80</text>
<text transform="translate(681.30 224.60) scale(1.050 1)" text-anchor="middle">100</text>
<text transform="translate(733.00 224.60) scale(1.050 1)" text-anchor="middle">120</text>
<text transform="translate(417.60 211.30) scale(1.050 1)" text-anchor="end">100</text>
<text transform="translate(417.60 179.68) scale(1.050 1)" text-anchor="end">120</text>
<text transform="translate(417.60 148.07) scale(1.050 1)" text-anchor="end">140</text>
<text transform="translate(417.60 116.45) scale(1.050 1)" text-anchor="end">160</text>
<text transform="translate(417.60 84.84) scale(1.050 1)" text-anchor="end">180</text>
<text transform="translate(417.60 53.22) scale(1.050 1)" text-anchor="end">200</text>
<text transform="translate(417.60 21.61) scale(1.050 1)" text-anchor="end">220</text>
<text transform="translate(577.90 243.70) scale(1.050 1)" text-anchor="middle">Time (s)</text>
<text transform="translate(388.10 104.35) rotate(-90) scale(1.050 1)" text-anchor="middle">Amplitude (dB)</text>
<rect x="427.20" y="4.40" width="129.40" height="56.80" fill="#fff" stroke="#3a3a3a" stroke-width="0.75"/>
<path d="M429.60 14.80 h26" stroke="#0072BD" stroke-width="1"/>
<path d="M429.60 33.00 h26" stroke="#D95319" stroke-width="1"/>
<circle cx="442.60" cy="51.10" r="1.0" fill="#000" stroke="none"/>
<text transform="translate(457.10 19.60) scale(1.050 1)">Power signal</text>
<text transform="translate(457.10 37.80) scale(1.050 1)">Threshold</text>
<text transform="translate(457.10 56.00) scale(1.050 1)">Detected signal</text>
</g>
<text x="558.10" y="274.60" class="cap" text-anchor="middle">(b)</text>
<clipPath id="c2"><rect x="44.20" y="283.00" width="310.20" height="205.50"/></clipPath>
<g clip-path="url(#c2)" fill="none" stroke-linejoin="round">
<path d="M43.80 442.88 L44.80 449.75 L46.05 461.62 L46.93 449.75 L48.18 439.12 L49.05 447.25 L50.05 441.00 L51.05 429.12 L51.93 433.50 L52.80 438.50 L54.05 445.38 L54.80 456.00 L55.43 476.62 L55.93 461.00 L56.30 452.25 L56.93 458.50 L57.30 493.50 L57.93 493.50 L58.43 459.75 L59.05 447.88 L59.80 454.75 L60.43 459.75 L61.05 454.12 L61.55 461.00 L62.05 493.50 L62.55 493.50 L62.93 459.75 L63.55 452.25 L64.43 448.50 L65.30 442.25 L66.05 433.50 L66.93 426.62 L67.55 432.25 L68.18 429.12 L69.18 423.50 L70.05 418.50 L70.68 422.25 L71.55 427.25 L72.30 421.00 L73.18 417.25 L73.93 414.75 L74.55 419.75 L75.30 421.00 L76.05 418.50 L76.80 419.75 L77.30 426.00 L77.55 426.00 L78.18 437.25 L78.80 452.25 L79.43 464.75 L79.80 472.25 L80.05 493.50 L80.43 493.50 L80.68 466.00 L81.05 493.50 L81.43 493.50 L81.93 468.50 L82.30 467.25 L82.93 493.50 L83.18 493.50 L83.55 462.25 L84.43 443.50 L85.30 431.00 L86.30 424.75 L86.93 422.25 L87.55 427.25 L88.55 429.12 L89.43 430.38 L90.30 432.88 L91.30 438.50 L92.30 446.00 L93.18 456.00 L93.80 471.00 L94.05 493.50 L94.30 493.50 L94.43 472.25 L94.68 493.50 L95.05 493.50 L95.68 456.00 L96.30 437.25 L97.30 426.00 L98.18 422.25 L98.80 416.00 L99.43 411.00 L100.30 404.12 L101.05 409.75 L101.68 414.75 L102.30 418.50 L102.80 424.75 L103.55 434.75 L104.43 451.00 L105.05 471.00 L105.43 493.50 L105.93 471.00 L106.30 493.50 L107.55 493.50 L107.93 472.25 L108.55 493.50 L109.05 456.00 L109.80 439.75 L110.68 426.00 L111.30 417.25 L112.30 412.00 L113.18 417.25 L114.05 428.50 L114.80 438.50 L115.68 453.50 L116.30 464.75 L116.93 449.75 L117.55 438.50 L118.18 433.50 L118.80 442.25 L119.43 432.25 L120.30 426.00 L120.93 423.50 L121.55 427.25 L122.55 433.50 L123.55 441.00 L124.43 453.50 L125.05 468.50 L125.43 488.00 L125.80 456.00 L126.55 439.75 L127.30 434.75 L128.18 431.00 L128.80 437.25 L129.55 451.00 L130.05 443.50 L130.68 437.25 L131.55 433.50 L132.30 438.50 L132.80 432.25 L133.55 427.88 L134.30 431.00 L135.05 428.50 L135.80 432.25 L136.43 429.75 L136.80 425.38 L137.80 426.00 L138.30 431.00 L139.30 434.75 L140.30 438.50 L140.80 446.00 L141.30 456.00 L141.55 468.50 L141.80 493.50 L142.05 468.50 L142.43 493.50 L143.05 468.50 L143.43 493.50 L144.05 468.50 L144.55 493.50 L145.05 468.50 L145.55 457.25 L145.93 493.50 L146.30 468.50 L146.55 456.00 L147.05 437.25 L147.80 424.75 L148.30 418.50 L148.68 398.50 L149.30 389.75 L150.30 382.25 L151.18 379.12 L152.05 378.50 L153.05 381.62 L153.68 387.25 L154.30 395.38 L154.68 408.50 L155.36 418.50 L155.55 493.50 L155.74 418.50 L156.18 395.38 L156.80 387.25 L157.68 378.50 L158.68 372.25 L159.68 370.62 L160.55 372.25 L161.43 377.25 L162.43 383.50 L163.68 389.12 L164.93 391.62 L166.18 389.75 L167.43 385.38 L168.68 383.50 L169.55 386.00 L170.30 389.75 L170.93 393.50 L171.55 408.50 L172.36 418.50 L172.55 493.50 L172.74 418.50 L173.68 392.88 L174.30 387.25 L175.30 382.25 L176.55 379.75 L177.80 381.62 L179.05 386.00 L179.93 391.00 L180.80 397.25 L181.43 401.00 L181.80 408.50 L182.18 418.50 L182.55 422.25 L183.30 427.25 L184.05 431.00 L184.68 443.50 L185.30 464.12 L185.93 443.50 L186.43 433.50 L187.05 428.50 L187.80 437.25 L188.43 432.25 L189.05 427.25 L189.93 423.50 L190.55 419.50 L191.18 424.75 L191.80 432.25 L192.68 438.50 L193.30 439.75 L194.05 436.00 L194.93 432.25 L195.80 426.00 L196.43 418.50 L197.05 409.75 L197.93 405.38 L198.80 402.50 L199.68 401.62 L200.55 401.38 L201.43 401.88 L202.18 403.50 L203.05 408.50 L203.68 414.75 L204.05 424.75 L204.43 433.50 L204.93 443.50 L205.55 448.50 L205.93 468.50 L206.30 493.50 L206.55 456.00 L207.05 439.75 L207.55 456.00 L208.05 493.50 L208.68 493.50 L209.30 468.50 L209.93 444.75 L210.55 456.00 L211.05 493.50 L211.55 474.75 L212.05 463.50 L212.55 474.75 L213.05 493.50 L214.30 493.50 L214.93 468.50 L215.55 443.50 L216.18 431.00 L216.80 424.75 L217.80 420.38 L218.80 416.62 L219.55 420.38 L220.30 424.75 L221.18 433.50 L222.05 449.75 L222.80 467.88 L223.68 462.25 L224.30 454.75 L225.18 449.12 L225.80 456.00 L226.55 467.25 L227.30 456.00 L228.05 437.25 L228.80 424.75 L229.43 420.38 L229.80 423.50 L231.05 424.75 L232.05 433.50 L232.93 446.00 L233.55 455.38 L234.30 446.00 L235.05 437.25 L235.80 443.50 L236.68 434.75 L237.55 426.00 L237.93 421.00 L238.55 417.25 L239.55 421.00 L240.43 416.00 L241.43 411.00 L242.30 407.88 L243.18 408.50 L243.80 413.50 L244.80 419.75 L245.30 423.50 L246.05 429.75 L247.05 441.00 L247.93 453.50 L248.55 468.50 L249.18 483.50 L249.55 493.50 L250.05 468.50 L250.68 453.50 L251.30 447.25 L252.05 442.88 L252.68 448.50 L253.30 454.75 L254.18 459.75 L254.80 468.50 L255.30 493.50 L255.80 461.00 L256.30 471.00 L256.80 493.50 L257.55 478.50 L258.05 493.50 L258.80 473.50 L259.30 493.50 L259.80 483.50 L260.18 468.50 L260.55 449.75 L261.05 431.00 L261.68 422.25 L262.05 419.75 L262.93 422.25 L263.80 419.12 L264.80 421.00 L265.80 431.00 L266.68 443.50 L267.30 462.25 L267.68 493.50 L268.05 468.50 L268.55 449.75 L269.18 442.25 L270.05 436.00 L270.80 439.75 L271.43 432.25 L272.30 430.38 L272.93 438.50 L273.55 434.75 L274.18 446.00 L274.80 458.50 L275.43 474.75 L275.80 493.50 L276.18 468.50 L276.55 456.00 L277.05 448.50 L277.55 462.25 L278.05 493.50 L278.80 493.50 L279.18 462.25 L279.80 449.75 L280.43 441.00 L281.30 433.50 L282.05 426.00 L282.55 422.25 L283.30 419.75 L284.18 422.25 L284.80 417.25 L285.68 412.25 L286.68 408.50 L287.55 409.75 L288.30 408.50 L289.18 407.88 L290.05 409.75 L290.80 416.00 L291.68 424.75 L292.30 431.00 L292.93 441.00 L293.55 453.50 L294.05 468.50 L294.43 493.50 L294.80 466.00 L295.30 453.50 L296.05 443.50 L297.05 437.25 L297.93 443.50 L298.55 452.25 L299.55 456.00 L300.43 466.00 L301.05 478.50 L301.43 493.50 L301.80 468.50 L302.30 449.75 L302.93 439.12 L303.55 453.50 L304.18 447.25 L304.80 441.00 L305.55 434.75 L306.30 429.75 L307.05 432.25 L307.80 427.88 L308.55 429.75 L309.55 424.75 L310.43 421.62 L311.05 415.38 L312.05 411.00 L312.93 409.75 L313.55 411.62 L314.55 408.50 L315.80 406.62 L317.30 405.00 L318.30 406.62 L319.18 411.00 L320.05 413.50 L321.05 412.25 L322.05 416.00 L322.55 420.38 L323.30 414.75 L324.18 411.00 L325.05 410.38 L325.80 414.75 L326.68 419.75 L327.30 418.50 L327.93 422.25 L328.55 426.00 L329.18 437.25 L329.55 449.75 L329.93 468.50 L330.30 493.50 L330.68 468.50 L331.05 449.75 L331.68 431.00 L332.05 422.25 L332.43 408.50 L332.93 404.75 L333.55 401.62 L334.55 399.12 L335.43 398.25 L336.30 398.75 L337.05 401.62 L337.55 408.50 L338.18 418.50 L338.68 423.50 L339.30 431.00 L340.05 441.00 L340.80 456.00 L341.30 475.38 L341.80 468.50 L342.30 462.25 L342.80 469.75 L343.30 459.75 L343.80 449.75 L344.55 437.25 L345.43 428.50 L346.30 423.50 L347.05 422.00 L347.93 422.25 L348.55 418.50 L349.55 421.62 L350.43 426.00 L351.30 429.75 L352.05 434.75 L352.68 443.50 L353.30 456.00 L353.80 462.88 L354.30 457.25" stroke="#0072BD" stroke-width="1.05"/>
<path d="M121.30 404.60 L121.80 403.71 L122.30 402.87 L122.80 402.05 L123.30 401.26 L123.80 400.48 L124.30 399.72 L124.80 398.97 L125.30 398.22 L125.80 397.44 L126.30 396.67 L126.80 395.94 L127.30 395.29 L127.80 394.75 L128.30 394.38 L128.80 394.20 L129.30 394.19 L129.80 394.27 L130.30 394.40 L130.80 394.52 L131.30 394.60 L131.80 394.64 L132.30 394.69 L132.80 394.73 L133.30 394.78 L133.80 394.82 L134.30 394.85 L134.80 394.88 L135.30 394.88 L135.80 394.88 L136.30 394.85 L136.80 394.80 L137.30 394.64 L137.80 394.33 L138.30 393.93 L138.80 393.51 L139.30 393.01 L139.80 392.45 L140.30 391.92 L140.80 391.51 L141.30 391.20 L141.80 391.03 L142.30 391.07 L142.80 391.28 L143.30 391.57 L143.80 391.92 L144.30 392.30 L144.80 392.73 L145.30 393.19 L145.80 393.63 L146.30 394.02 L146.80 394.32 L147.30 394.55 L147.80 394.73 L148.30 394.86 L148.80 394.91 L149.30 394.90 L149.80 394.82 L150.30 394.67 L150.80 394.40 L151.30 394.03 L151.80 393.60 L152.30 392.79 L152.80 391.89 L153.30 391.66 L153.80 391.60 L154.30 391.54 L154.80 391.50 L155.30 391.47 L155.80 391.43 L156.30 391.41 L156.80 391.38 L157.30 391.35 L157.80 391.32 L158.30 391.28 L158.80 391.25 L159.30 391.22 L159.80 391.18 L160.30 391.13 L160.80 391.06 L161.30 390.96 L161.80 390.83 L162.30 390.68 L162.80 390.52 L163.30 390.37 L163.80 390.20 L164.30 390.01 L164.80 389.82 L165.30 389.66 L165.80 389.55 L166.30 389.48 L166.80 389.45 L167.30 389.45 L167.80 389.45 L168.30 389.46 L168.80 389.49 L169.30 389.55 L169.80 389.60 L170.30 389.61 L170.80 389.57 L171.30 389.48 L171.80 389.34 L172.30 389.19 L172.80 389.03 L173.30 388.87 L173.80 388.66 L174.30 388.44 L174.80 388.23 L175.30 388.15 L175.80 388.32 L176.30 388.69 L176.80 389.35 L177.30 390.25 L177.80 391.39 L178.30 392.70 L178.80 393.79 L179.30 394.62 L179.80 395.31 L180.30 395.87 L180.80 396.31 L181.30 396.68 L181.80 396.92 L182.30 396.97 L182.80 396.83 L183.30 396.63 L183.80 396.39 L184.30 396.10 L184.80 395.77 L185.30 395.41 L185.80 395.06 L186.30 394.74 L186.80 394.52 L187.30 394.45 L187.80 394.56 L188.30 394.86 L188.80 395.29 L189.30 395.87 L189.80 396.52 L190.30 397.09 L190.80 397.47 L191.30 397.76 L191.80 397.99 L192.30 398.17 L192.80 398.29 L193.30 398.36 L193.80 398.45 L194.30 398.60 L194.80 398.82 L195.30 399.04 L195.80 399.27 L196.30 399.49 L196.80 399.71 L197.30 399.91 L197.80 400.10 L198.30 400.23 L198.80 399.97 L199.30 399.43 L199.80 398.80 L200.30 397.93 L200.80 395.70 L201.30 391.79 L201.80 387.28 L202.30 382.54 L202.80 378.16 L203.30 374.49 L203.80 371.46 L204.30 369.24 L204.80 368.03 L205.30 367.34 L205.80 366.86 L206.30 366.59 L206.80 366.46 L207.30 366.35 L207.80 366.16 L208.30 365.85 L208.80 365.30 L209.30 364.17 L209.80 362.61 L210.30 361.00 L210.80 359.51 L211.30 358.05 L211.80 356.69 L212.30 355.54 L212.80 354.66 L213.30 354.03 L213.80 353.60 L214.30 353.24 L214.80 352.90 L215.30 352.59 L215.80 352.32 L216.30 352.09 L216.80 351.87 L217.30 351.66 L217.80 351.44 L218.30 351.22 L218.80 350.97 L219.30 350.67 L219.80 350.34 L220.30 350.04 L220.80 349.79 L221.30 349.63 L221.80 349.49 L222.30 349.37 L222.80 349.26 L223.30 349.15 L223.80 349.05 L224.30 348.94 L224.80 348.83 L225.30 348.73 L225.80 348.62 L226.30 348.53 L226.80 348.43 L227.30 348.35 L227.80 348.29 L228.30 348.24 L228.80 348.21 L229.30 348.20 L229.80 348.20 L230.30 348.23 L230.80 348.27 L231.30 348.34 L231.80 348.40 L232.30 348.45 L232.80 348.46 L233.30 348.44 L233.80 348.41 L234.30 348.42 L234.80 348.54 L235.30 349.00 L235.80 349.70 L236.30 350.51 L236.80 351.35 L237.30 352.20 L237.80 353.07 L238.30 353.94 L238.80 354.80 L239.30 355.56 L239.80 356.16 L240.30 356.62 L240.80 356.98 L241.30 357.30 L241.80 357.61 L242.30 357.95 L242.80 358.31 L243.30 358.68 L243.80 359.08 L244.30 359.55 L244.80 360.10 L245.30 360.70 L245.80 361.30 L246.30 361.93 L246.80 362.60 L247.30 363.20 L247.80 363.59 L248.30 363.75 L248.80 363.79 L249.30 363.80 L249.80 363.72 L250.30 363.56 L250.80 363.45 L251.30 363.51 L251.80 363.86 L252.30 364.45 L252.80 365.22 L253.30 366.27 L253.80 367.70 L254.30 369.20 L254.80 370.70 L255.30 372.20 L255.80 373.70 L256.30 375.20 L256.80 376.70 L257.30 378.20 L257.80 379.41 L258.30 380.18 L258.80 380.69 L259.30 381.13 L259.80 381.47 L260.30 381.68 L260.80 381.78 L261.30 381.88 L261.80 381.98 L262.30 382.08 L262.80 382.18 L263.30 382.28 L263.80 382.38 L264.30 382.48 L264.80 382.58 L265.30 382.68 L265.80 382.78 L266.30 382.88 L266.80 382.98 L267.30 383.08 L267.80 383.18 L268.30 383.21 L268.80 383.09 L269.30 382.89 L269.80 382.70 L270.30 382.52 L270.80 382.31 L271.30 382.10 L271.80 381.92 L272.30 381.84 L272.80 381.88 L273.30 382.06 L273.80 382.39 L274.30 382.99 L274.80 383.80 L275.30 384.72 L275.80 385.74 L276.30 386.89 L276.80 388.12 L277.30 389.45 L277.80 390.89 L278.30 392.41 L278.80 394.02 L279.30 395.80 L279.80 397.85 L280.30 400.26 L280.80 400.77 L281.30 400.33 L281.80 399.67 L282.30 398.89 L282.80 398.26 L283.30 398.03 L283.80 397.86 L284.30 397.76 L284.80 397.70 L285.30 397.67 L285.80 397.65 L286.30 397.63 L286.80 397.59 L287.30 397.54 L287.80 397.47 L288.30 397.37 L288.80 397.20 L289.30 396.82 L289.80 396.27 L290.30 395.60 L290.80 394.82 L291.30 393.97 L291.80 393.10 L292.30 392.30 L292.80 391.57 L293.30 390.88 L293.80 390.25 L294.30 389.70 L294.80 389.23 L295.30 388.88 L295.80 388.66 L296.30 388.57 L296.80 388.51 L297.30 388.46 L297.80 388.41 L298.30 388.38 L298.80 388.35 L299.30 388.32 L299.80 388.30 L300.30 388.27 L300.80 388.22 L301.30 388.17 L301.80 388.12 L302.30 388.07 L302.80 388.05 L303.30 388.05 L303.80 388.09 L304.30 388.17 L304.80 388.30 L305.30 388.52 L305.80 388.83 L306.30 389.17 L306.80 389.52 L307.30 389.85 L307.80 390.19 L308.30 390.53 L308.80 390.86 L309.30 391.17 L309.80 391.44 L310.30 391.66 L310.80 391.79 L311.30 391.76 L311.80 391.62 L312.30 391.45 L312.80 391.21 L313.30 390.91 L313.80 390.62 L314.30 390.42 L314.80 390.35 L315.30 390.36 L315.80 390.42 L316.30 390.49 L316.80 390.65 L317.30 390.92 L317.80 391.34 L318.30 392.05 L318.80 393.16 L319.30 394.48 L319.80 396.13 L320.30 397.70 L320.80 398.78 L321.30 399.63 L321.80 400.34 L322.30 401.02 L322.80 401.43 L323.30 401.47 L323.80 401.48 L324.30 401.48 L324.80 401.47 L325.30 401.45 L325.80 401.43 L326.30 401.41 L326.80 401.38 L327.30 401.35 L327.80 401.33 L328.30 401.31 L328.80 401.30 L329.30 401.32 L329.80 401.37 L330.30 401.43 L330.80 401.51 L331.30 401.58 L331.80 401.65 L332.30 401.70 L332.80 401.77 L333.30 401.68 L333.80 401.08 L334.30 400.14 L334.80 399.20 L335.30 398.39 L335.80 397.58 L336.30 396.77 L336.80 395.93 L337.30 395.08 L337.80 394.23 L338.30 393.38 L338.80 392.52 L339.30 391.67 L339.80 390.82 L340.30 389.97 L340.80 389.20 L341.30 388.65 L341.80 388.25 L342.30 387.95 L342.80 387.70 L343.30 387.49 L343.80 387.35 L344.30 387.29 L344.80 387.27 L345.30 387.25 L345.80 387.23 L346.30 387.24 L346.80 387.26 L347.30 387.30 L347.80 387.36 L348.30 387.43 L348.80 387.50 L349.30 387.57 L349.80 387.64 L350.30 387.69 L350.80 387.73 L351.30 387.77 L351.80 387.81 L352.30 387.85 L352.80 387.88 L353.30 387.91 L353.80 387.93 L354.30 387.95" stroke="#D95319" stroke-width="1"/>
<path d="M148.95 394.71 L148.97 394.31 L149.00 393.91 L149.03 393.51 L149.06 393.11 L149.09 392.71 L149.12 392.31 L149.15 391.91 L149.17 391.52 L149.20 391.12 L149.23 390.72 L149.26 390.32 L149.29 389.92 L149.33 389.52 L149.38 389.13 L149.44 388.73 L149.49 388.33 L149.54 387.94 L149.59 387.54 L149.65 387.14 L149.70 386.75 L149.75 386.35 L149.81 385.95 L149.86 385.56 L149.91 385.16 L149.96 384.76 L150.02 384.37 L150.07 383.97 L150.12 383.58 L150.18 383.18 L150.23 382.78 L150.28 382.39 L150.37 382.00 L150.48 381.61 L150.59 381.23 L150.69 380.84 L150.80 380.46 L150.91 380.07 L151.02 379.69 L151.13 379.30 L151.35 379.00 L151.68 378.77 L152.00 378.53 L152.15 378.83 L152.28 379.21 L152.40 379.59 L152.52 379.97 L152.64 380.35 L152.76 380.73 L152.89 381.11 L153.01 381.49 L153.08 381.89 L153.12 382.28 L153.17 382.68 L153.21 383.08 L153.26 383.48 L153.30 383.87 L153.34 384.27 L153.39 384.67 L153.43 385.07 L153.48 385.46 L153.52 385.86 L153.56 386.26 L153.61 386.66 L153.65 387.05 L153.69 387.45 L153.72 387.85 L153.75 388.25 L153.78 388.65 L153.81 389.05 L153.84 389.45 L153.87 389.84 L153.91 390.24 L153.94 390.64 L153.97 391.04 L154.00 391.44 M156.49 391.22 L156.53 390.82 L156.56 390.42 L156.59 390.02 L156.62 389.62 L156.65 389.22 L156.68 388.82 L156.71 388.43 L156.74 388.03 L156.77 387.63 L156.80 387.23 L156.84 386.83 L156.88 386.43 L156.92 386.04 L156.96 385.64 L157.00 385.24 L157.04 384.84 L157.08 384.44 L157.12 384.05 L157.16 383.65 L157.20 383.25 L157.24 382.85 L157.28 382.45 L157.32 382.06 L157.36 381.66 L157.40 381.26 L157.44 380.86 L157.48 380.46 L157.52 380.07 L157.56 379.67 L157.60 379.27 L157.64 378.87 L157.68 378.47 L157.74 378.08 L157.81 377.68 L157.87 377.29 L157.93 376.89 L158.00 376.50 L158.06 376.10 L158.12 375.71 L158.18 375.31 L158.25 374.92 L158.31 374.52 L158.37 374.13 L158.44 373.73 L158.50 373.34 L158.56 372.94 L158.63 372.55 L158.73 372.17 L158.94 371.83 L159.15 371.49 L159.35 371.15 L159.56 370.80 L159.76 370.79 L159.95 371.14 L160.14 371.50 L160.33 371.85 L160.52 372.20 L160.61 372.59 L160.68 372.98 L160.75 373.38 L160.82 373.77 L160.89 374.16 L160.95 374.56 L161.02 374.95 L161.09 375.35 L161.16 375.74 L161.23 376.13 L161.30 376.53 L161.37 376.92 L161.44 377.32 L161.50 377.71 L161.56 378.11 L161.63 378.50 L161.69 378.90 L161.75 379.29 L161.81 379.69 L161.88 380.08 L161.94 380.48 L162.00 380.87 L162.07 381.27 L162.13 381.66 L162.19 382.06 L162.26 382.45 L162.32 382.85 L162.38 383.24 L162.45 383.63 L162.54 384.03 L162.63 384.42 L162.72 384.81 L162.80 385.20 L162.89 385.59 L162.98 385.98 L163.06 386.37 L163.15 386.76 L163.24 387.15 L163.32 387.54 L163.41 387.93 L163.50 388.32 L163.58 388.71 L163.67 389.10 L163.84 389.46 L164.02 389.82 M166.32 389.24 L166.43 388.86 L166.54 388.47 L166.65 388.09 L166.76 387.70 L166.87 387.32 L166.98 386.94 L167.09 386.55 L167.20 386.17 L167.31 385.78 L167.42 385.40 L167.63 385.06 L167.86 384.73 L168.08 384.40 L168.30 384.06 L168.52 383.73 L168.72 383.62 L168.85 383.99 L168.98 384.37 L169.11 384.75 L169.24 385.13 L169.38 385.50 L169.51 385.88 L169.60 386.27 L169.68 386.66 L169.76 387.05 L169.84 387.45 L169.92 387.84 L170.00 388.23 L170.07 388.62 L170.15 389.02 L170.23 389.41 M174.20 388.14 L174.24 387.75 L174.29 387.35 L174.36 386.95 L174.44 386.56 L174.52 386.17 L174.59 385.78 L174.67 385.39 L174.75 384.99 L174.83 384.60 L174.91 384.21 L174.99 383.82 L175.07 383.42 L175.14 383.03 L175.22 382.64 L175.30 382.25 L175.48 381.89 L175.66 381.53 L175.84 381.17 L176.02 380.82 L176.20 380.46 L176.37 380.10 L176.55 379.76 L176.78 380.09 L177.00 380.42 L177.22 380.75 L177.44 381.09 L177.66 381.42 L177.84 381.77 L177.95 382.16 L178.06 382.54 L178.17 382.93 L178.28 383.31 L178.39 383.70 L178.50 384.08 L178.61 384.46 L178.72 384.85 L178.83 385.23 L178.94 385.62 L179.05 386.00 L179.12 386.40 L179.19 386.79 L179.26 387.19 L179.33 387.58 L179.40 387.97 L179.46 388.37 L179.53 388.76 L179.60 389.16 L179.67 389.55 L179.74 389.94 L179.81 390.34 L179.88 390.73 L179.94 391.13 L180.00 391.52 L180.05 391.92 L180.11 392.31 L180.16 392.71 L180.22 393.11 L180.28 393.50 L180.33 393.90 L180.39 394.30 L180.44 394.69 L180.50 395.09 L180.55 395.48 L180.61 395.88" stroke="#000" stroke-width="2.0" stroke-linecap="round"/>
</g>
<g stroke="#3a3a3a" stroke-width="1.15" fill="none">
<path d="M44.20 283.00 V488.50 H354.40 V283.00"/>
<path d="M44.20 488.50 v-3.20 M44.20 283.00 v3.20 M95.90 488.50 v-3.20 M95.90 283.00 v3.20 M147.60 488.50 v-3.20 M147.60 283.00 v3.20 M199.30 488.50 v-3.20 M199.30 283.00 v3.20 M251.00 488.50 v-3.20 M251.00 283.00 v3.20 M302.70 488.50 v-3.20 M302.70 283.00 v3.20 M354.40 488.50 v-3.20 M354.40 283.00 v3.20 M44.20 488.50 h3.20 M354.40 488.50 h-3.20 M44.20 456.88 h3.20 M354.40 456.88 h-3.20 M44.20 425.27 h3.20 M354.40 425.27 h-3.20 M44.20 393.65 h3.20 M354.40 393.65 h-3.20 M44.20 362.04 h3.20 M354.40 362.04 h-3.20 M44.20 330.42 h3.20 M354.40 330.42 h-3.20 M44.20 298.81 h3.20 M354.40 298.81 h-3.20 "/>
</g>
<g class="t" font-size="13.3">
<text transform="translate(44.20 506.80) scale(1.050 1)" text-anchor="middle">0</text>
<text transform="translate(95.90 506.80) scale(1.050 1)" text-anchor="middle">20</text>
<text transform="translate(147.60 506.80) scale(1.050 1)" text-anchor="middle">40</text>
<text transform="translate(199.30 506.80) scale(1.050 1)" text-anchor="middle">60</text>
<text transform="translate(251.00 506.80) scale(1.050 1)" text-anchor="middle">80</text>
<text transform="translate(302.70 506.80) scale(1.050 1)" text-anchor="middle">100</text>
<text transform="translate(354.40 506.80) scale(1.050 1)" text-anchor="middle">120</text>
<text transform="translate(39.00 493.50) scale(1.050 1)" text-anchor="end">100</text>
<text transform="translate(39.00 461.88) scale(1.050 1)" text-anchor="end">120</text>
<text transform="translate(39.00 430.27) scale(1.050 1)" text-anchor="end">140</text>
<text transform="translate(39.00 398.65) scale(1.050 1)" text-anchor="end">160</text>
<text transform="translate(39.00 367.04) scale(1.050 1)" text-anchor="end">180</text>
<text transform="translate(39.00 335.42) scale(1.050 1)" text-anchor="end">200</text>
<text transform="translate(39.00 303.81) scale(1.050 1)" text-anchor="end">220</text>
<text transform="translate(199.30 525.90) scale(1.050 1)" text-anchor="middle">Time (s)</text>
<text transform="translate(9.50 386.55) rotate(-90) scale(1.050 1)" text-anchor="middle">Amplitude (dB)</text>
<rect x="48.20" y="287.60" width="129.40" height="56.80" fill="#fff" stroke="#3a3a3a" stroke-width="0.75"/>
<path d="M50.60 298.00 h26" stroke="#0072BD" stroke-width="1"/>
<path d="M50.60 316.20 h26" stroke="#D95319" stroke-width="1"/>
<circle cx="63.60" cy="334.30" r="1.0" fill="#000" stroke="none"/>
<text transform="translate(78.10 302.80) scale(1.050 1)">Power signal</text>
<text transform="translate(78.10 321.00) scale(1.050 1)">Threshold</text>
<text transform="translate(78.10 339.20) scale(1.050 1)">Detected signal</text>
</g>
<text x="179.50" y="556.80" class="cap" text-anchor="middle">(c)</text>
<clipPath id="c3"><rect x="422.80" y="282.50" width="310.20" height="205.50"/></clipPath>
<g clip-path="url(#c3)" fill="none" stroke-linejoin="round">
<path d="M422.40 442.38 L423.40 449.25 L424.65 461.12 L425.53 449.25 L426.78 438.62 L427.65 446.75 L428.65 440.50 L429.65 428.62 L430.53 433.00 L431.40 438.00 L432.65 444.88 L433.40 455.50 L434.03 476.12 L434.53 460.50 L434.90 451.75 L435.53 458.00 L435.90 493.00 L436.53 493.00 L437.03 459.25 L437.65 447.38 L438.40 454.25 L439.03 459.25 L439.65 453.62 L440.15 460.50 L440.65 493.00 L441.15 493.00 L441.53 459.25 L442.15 451.75 L443.03 448.00 L443.90 441.75 L444.65 433.00 L445.53 426.12 L446.15 431.75 L446.78 428.62 L447.78 423.00 L448.65 418.00 L449.28 421.75 L450.15 426.75 L450.90 420.50 L451.78 416.75 L452.53 414.25 L453.15 419.25 L453.90 420.50 L454.65 418.00 L455.40 419.25 L455.90 425.50 L456.15 425.50 L456.78 436.75 L457.40 451.75 L458.03 464.25 L458.40 471.75 L458.65 493.00 L459.03 493.00 L459.28 465.50 L459.65 493.00 L460.03 493.00 L460.53 468.00 L460.90 466.75 L461.53 493.00 L461.78 493.00 L462.15 461.75 L463.03 443.00 L463.90 430.50 L464.90 424.25 L465.53 421.75 L466.15 426.75 L467.15 428.62 L468.03 429.88 L468.90 432.38 L469.90 438.00 L470.90 445.50 L471.78 455.50 L472.40 470.50 L472.65 493.00 L472.90 493.00 L473.03 471.75 L473.28 493.00 L473.65 493.00 L474.28 455.50 L474.90 436.75 L475.90 425.50 L476.78 421.75 L477.40 415.50 L478.03 410.50 L478.90 403.62 L479.65 409.25 L480.28 414.25 L480.90 418.00 L481.40 424.25 L482.15 434.25 L483.03 450.50 L483.65 470.50 L484.03 493.00 L484.53 470.50 L484.90 493.00 L486.15 493.00 L486.53 471.75 L487.15 493.00 L487.65 455.50 L488.40 439.25 L489.28 425.50 L489.90 416.75 L490.90 411.50 L491.78 416.75 L492.65 428.00 L493.40 438.00 L494.28 453.00 L494.90 464.25 L495.53 449.25 L496.15 438.00 L496.78 433.00 L497.40 441.75 L498.03 431.75 L498.90 425.50 L499.53 423.00 L500.15 426.75 L501.15 433.00 L502.15 440.50 L503.03 453.00 L503.65 468.00 L504.03 487.50 L504.40 455.50 L505.15 439.25 L505.90 434.25 L506.78 430.50 L507.40 436.75 L508.15 450.50 L508.65 443.00 L509.28 436.75 L510.15 433.00 L510.90 438.00 L511.40 431.75 L512.15 427.38 L512.90 430.50 L513.65 428.00 L514.40 431.75 L515.03 429.25 L515.40 424.88 L516.40 425.50 L516.90 430.50 L517.90 434.25 L518.90 438.00 L519.40 445.50 L519.90 455.50 L520.15 468.00 L520.40 493.00 L520.65 468.00 L521.03 493.00 L521.65 468.00 L522.03 493.00 L522.65 468.00 L523.15 493.00 L523.65 468.00 L524.15 456.75 L524.53 493.00 L524.90 468.00 L525.15 455.50 L525.65 436.75 L526.40 424.25 L526.90 418.00 L527.28 398.00 L527.90 389.25 L528.90 381.75 L529.78 378.62 L530.65 378.00 L531.65 381.12 L532.28 386.75 L532.90 394.88 L533.28 408.00 L533.96 418.00 L534.15 493.00 L534.34 418.00 L534.78 394.88 L535.40 386.75 L536.28 378.00 L537.28 371.75 L538.28 370.12 L539.15 371.75 L540.03 376.75 L541.03 383.00 L542.28 388.62 L543.53 391.12 L544.78 389.25 L546.03 384.88 L547.28 383.00 L548.15 385.50 L548.90 389.25 L549.53 393.00 L550.15 408.00 L550.96 418.00 L551.15 493.00 L551.34 418.00 L552.28 392.38 L552.90 386.75 L553.90 381.75 L555.15 379.25 L556.40 381.12 L557.65 385.50 L558.53 390.50 L559.40 396.75 L560.03 400.50 L560.40 408.00 L560.78 418.00 L561.15 421.75 L561.90 426.75 L562.65 430.50 L563.28 443.00 L563.90 463.62 L564.53 443.00 L565.03 433.00 L565.65 428.00 L566.40 436.75 L567.03 431.75 L567.65 426.75 L568.53 423.00 L569.15 419.00 L569.78 424.25 L570.40 431.75 L571.28 438.00 L571.90 439.25 L572.65 435.50 L573.53 431.75 L574.40 425.50 L575.03 418.00 L575.65 409.25 L576.53 404.88 L577.40 402.00 L578.28 401.12 L579.15 400.88 L580.03 401.38 L580.78 403.00 L581.65 408.00 L582.28 414.25 L582.65 424.25 L583.03 433.00 L583.53 443.00 L584.15 448.00 L584.53 468.00 L584.90 493.00 L585.15 455.50 L585.65 439.25 L586.15 455.50 L586.65 493.00 L587.28 493.00 L587.90 468.00 L588.53 444.25 L589.15 455.50 L589.65 493.00 L590.15 474.25 L590.65 463.00 L591.15 474.25 L591.65 493.00 L592.90 493.00 L593.53 468.00 L594.15 443.00 L594.78 430.50 L595.40 424.25 L596.40 419.88 L597.40 416.12 L598.15 419.88 L598.90 424.25 L599.78 433.00 L600.65 449.25 L601.40 467.38 L602.28 461.75 L602.90 454.25 L603.78 448.62 L604.40 455.50 L605.15 466.75 L605.90 455.50 L606.65 436.75 L607.40 424.25 L608.03 419.88 L608.40 423.00 L609.65 424.25 L610.65 433.00 L611.53 445.50 L612.15 454.88 L612.90 445.50 L613.65 436.75 L614.40 443.00 L615.28 434.25 L616.15 425.50 L616.53 420.50 L617.15 416.75 L618.15 420.50 L619.03 415.50 L620.03 410.50 L620.90 407.38 L621.78 408.00 L622.40 413.00 L623.40 419.25 L623.90 423.00 L624.65 429.25 L625.65 440.50 L626.53 453.00 L627.15 468.00 L627.78 483.00 L628.15 493.00 L628.65 468.00 L629.28 453.00 L629.90 446.75 L630.65 442.38 L631.28 448.00 L631.90 454.25 L632.78 459.25 L633.40 468.00 L633.90 493.00 L634.40 460.50 L634.90 470.50 L635.40 493.00 L636.15 478.00 L636.65 493.00 L637.40 473.00 L637.90 493.00 L638.40 483.00 L638.78 468.00 L639.15 449.25 L639.65 430.50 L640.28 421.75 L640.65 419.25 L641.53 421.75 L642.40 418.62 L643.40 420.50 L644.40 430.50 L645.28 443.00 L645.90 461.75 L646.28 493.00 L646.65 468.00 L647.15 449.25 L647.78 441.75 L648.65 435.50 L649.40 439.25 L650.03 431.75 L650.90 429.88 L651.53 438.00 L652.15 434.25 L652.78 445.50 L653.40 458.00 L654.03 474.25 L654.40 493.00 L654.78 468.00 L655.15 455.50 L655.65 448.00 L656.15 461.75 L656.65 493.00 L657.40 493.00 L657.78 461.75 L658.40 449.25 L659.03 440.50 L659.90 433.00 L660.65 425.50 L661.15 421.75 L661.90 419.25 L662.78 421.75 L663.40 416.75 L664.28 411.75 L665.28 408.00 L666.15 409.25 L666.90 408.00 L667.78 407.38 L668.65 409.25 L669.40 415.50 L670.28 424.25 L670.90 430.50 L671.53 440.50 L672.15 453.00 L672.65 468.00 L673.03 493.00 L673.40 465.50 L673.90 453.00 L674.65 443.00 L675.65 436.75 L676.53 443.00 L677.15 451.75 L678.15 455.50 L679.03 465.50 L679.65 478.00 L680.03 493.00 L680.40 468.00 L680.90 449.25 L681.53 438.62 L682.15 453.00 L682.78 446.75 L683.40 440.50 L684.15 434.25 L684.90 429.25 L685.65 431.75 L686.40 427.38 L687.15 429.25 L688.15 424.25 L689.03 421.12 L689.65 414.88 L690.65 410.50 L691.53 409.25 L692.15 411.12 L693.15 408.00 L694.40 406.12 L695.90 404.50 L696.90 406.12 L697.78 410.50 L698.65 413.00 L699.65 411.75 L700.65 415.50 L701.15 419.88 L701.90 414.25 L702.78 410.50 L703.65 409.88 L704.40 414.25 L705.28 419.25 L705.90 418.00 L706.53 421.75 L707.15 425.50 L707.78 436.75 L708.15 449.25 L708.53 468.00 L708.90 493.00 L709.28 468.00 L709.65 449.25 L710.28 430.50 L710.65 421.75 L711.03 408.00 L711.53 404.25 L712.15 401.12 L713.15 398.62 L714.03 397.75 L714.90 398.25 L715.65 401.12 L716.15 408.00 L716.78 418.00 L717.28 423.00 L717.90 430.50 L718.65 440.50 L719.40 455.50 L719.90 474.88 L720.40 468.00 L720.90 461.75 L721.40 469.25 L721.90 459.25 L722.40 449.25 L723.15 436.75 L724.03 428.00 L724.90 423.00 L725.65 421.50 L726.53 421.75 L727.15 418.00 L728.15 421.12 L729.03 425.50 L729.90 429.25 L730.65 434.25 L731.28 443.00 L731.90 455.50 L732.40 462.38 L732.90 456.75" stroke="#0072BD" stroke-width="1.05"/>
<path d="M499.90 402.00 L500.40 401.11 L500.90 400.27 L501.40 399.45 L501.90 398.66 L502.40 397.88 L502.90 397.12 L503.40 396.37 L503.90 395.62 L504.40 394.84 L504.90 394.07 L505.40 393.34 L505.90 392.69 L506.40 392.15 L506.90 391.78 L507.40 391.60 L507.90 391.59 L508.40 391.67 L508.90 391.80 L509.40 391.92 L509.90 392.00 L510.40 392.04 L510.90 392.09 L511.40 392.13 L511.90 392.18 L512.40 392.22 L512.90 392.25 L513.40 392.28 L513.90 392.28 L514.40 392.28 L514.90 392.25 L515.40 392.20 L515.90 392.04 L516.40 391.73 L516.90 391.33 L517.40 390.91 L517.90 390.41 L518.40 389.85 L518.90 389.32 L519.40 388.91 L519.90 388.60 L520.40 388.43 L520.90 388.47 L521.40 388.68 L521.90 388.97 L522.40 389.32 L522.90 389.70 L523.40 390.13 L523.90 390.59 L524.40 391.03 L524.90 391.42 L525.40 391.72 L525.90 391.95 L526.40 392.13 L526.90 392.26 L527.40 392.31 L527.90 392.30 L528.40 392.22 L528.90 392.07 L529.40 391.80 L529.90 391.43 L530.40 391.00 L530.90 390.19 L531.40 389.29 L531.90 389.06 L532.40 389.00 L532.90 388.94 L533.40 388.90 L533.90 388.87 L534.40 388.83 L534.90 388.81 L535.40 388.78 L535.90 388.75 L536.40 388.72 L536.90 388.68 L537.40 388.65 L537.90 388.62 L538.40 388.58 L538.90 388.53 L539.40 388.46 L539.90 388.36 L540.40 388.23 L540.90 388.08 L541.40 387.92 L541.90 387.77 L542.40 387.60 L542.90 387.41 L543.40 387.22 L543.90 387.06 L544.40 386.95 L544.90 386.88 L545.40 386.86 L545.90 386.85 L546.40 386.85 L546.90 386.86 L547.40 386.89 L547.90 386.95 L548.40 387.00 L548.90 387.01 L549.40 386.97 L549.90 386.88 L550.40 386.74 L550.90 386.59 L551.40 386.43 L551.90 386.27 L552.40 386.06 L552.90 385.84 L553.40 385.63 L553.90 385.55 L554.40 385.72 L554.90 386.09 L555.40 386.75 L555.90 387.65 L556.40 388.79 L556.90 390.10 L557.40 391.19 L557.90 392.02 L558.40 392.71 L558.90 393.27 L559.40 393.71 L559.90 394.08 L560.40 394.32 L560.90 394.37 L561.40 394.23 L561.90 394.03 L562.40 393.79 L562.90 393.50 L563.40 393.17 L563.90 392.81 L564.40 392.46 L564.90 392.14 L565.40 391.92 L565.90 391.85 L566.40 391.96 L566.90 392.26 L567.40 392.69 L567.90 393.27 L568.40 393.92 L568.90 394.49 L569.40 394.87 L569.90 395.16 L570.40 395.39 L570.90 395.57 L571.40 395.69 L571.90 395.76 L572.40 395.85 L572.90 396.00 L573.40 396.22 L573.90 396.44 L574.40 396.67 L574.90 396.89 L575.40 397.11 L575.90 397.31 L576.40 397.50 L576.90 397.63 L577.40 397.37 L577.90 396.83 L578.40 396.20 L578.90 395.33 L579.40 393.10 L579.90 389.19 L580.40 384.68 L580.90 379.94 L581.40 375.56 L581.90 371.89 L582.40 368.86 L582.90 366.64 L583.40 365.43 L583.90 364.74 L584.40 364.26 L584.90 363.99 L585.40 363.86 L585.90 363.75 L586.40 363.56 L586.90 363.25 L587.40 362.70 L587.90 361.57 L588.40 360.01 L588.90 358.40 L589.40 356.91 L589.90 355.45 L590.40 354.09 L590.90 352.94 L591.40 352.06 L591.90 351.43 L592.40 351.00 L592.90 350.64 L593.40 350.30 L593.90 349.99 L594.40 349.72 L594.90 349.49 L595.40 349.27 L595.90 349.06 L596.40 348.84 L596.90 348.62 L597.40 348.37 L597.90 348.07 L598.40 347.74 L598.90 347.44 L599.40 347.19 L599.90 347.03 L600.40 346.89 L600.90 346.77 L601.40 346.66 L601.90 346.55 L602.40 346.45 L602.90 346.34 L603.40 346.23 L603.90 346.13 L604.40 346.02 L604.90 345.93 L605.40 345.83 L605.90 345.75 L606.40 345.69 L606.90 345.64 L607.40 345.61 L607.90 345.60 L608.40 345.60 L608.90 345.63 L609.40 345.67 L609.90 345.74 L610.40 345.80 L610.90 345.85 L611.40 345.86 L611.90 345.84 L612.40 345.81 L612.90 345.82 L613.40 345.94 L613.90 346.40 L614.40 347.10 L614.90 347.91 L615.40 348.75 L615.90 349.60 L616.40 350.47 L616.90 351.34 L617.40 352.20 L617.90 352.96 L618.40 353.56 L618.90 354.02 L619.40 354.38 L619.90 354.70 L620.40 355.01 L620.90 355.35 L621.40 355.71 L621.90 356.08 L622.40 356.48 L622.90 356.95 L623.40 357.50 L623.90 358.10 L624.40 358.70 L624.90 359.33 L625.40 360.00 L625.90 360.60 L626.40 360.99 L626.90 361.15 L627.40 361.19 L627.90 361.20 L628.40 361.12 L628.90 360.96 L629.40 360.85 L629.90 360.91 L630.40 361.26 L630.90 361.85 L631.40 362.62 L631.90 363.67 L632.40 365.10 L632.90 366.60 L633.40 368.10 L633.90 369.60 L634.40 371.10 L634.90 372.60 L635.40 374.10 L635.90 375.60 L636.40 376.81 L636.90 377.58 L637.40 378.09 L637.90 378.53 L638.40 378.87 L638.90 379.08 L639.40 379.18 L639.90 379.28 L640.40 379.38 L640.90 379.48 L641.40 379.58 L641.90 379.68 L642.40 379.78 L642.90 379.88 L643.40 379.98 L643.90 380.08 L644.40 380.18 L644.90 380.28 L645.40 380.38 L645.90 380.48 L646.40 380.58 L646.90 380.61 L647.40 380.49 L647.90 380.29 L648.40 380.10 L648.90 379.92 L649.40 379.71 L649.90 379.50 L650.40 379.32 L650.90 379.24 L651.40 379.28 L651.90 379.46 L652.40 379.79 L652.90 380.39 L653.40 381.20 L653.90 382.12 L654.40 383.14 L654.90 384.29 L655.40 385.52 L655.90 386.85 L656.40 388.29 L656.90 389.81 L657.40 391.42 L657.90 393.20 L658.40 395.25 L658.90 397.66 L659.40 398.17 L659.90 397.73 L660.40 397.07 L660.90 396.29 L661.40 395.66 L661.90 395.43 L662.40 395.26 L662.90 395.16 L663.40 395.10 L663.90 395.07 L664.40 395.05 L664.90 395.03 L665.40 394.99 L665.90 394.94 L666.40 394.87 L666.90 394.77 L667.40 394.60 L667.90 394.22 L668.40 393.67 L668.90 393.00 L669.40 392.22 L669.90 391.37 L670.40 390.50 L670.90 389.70 L671.40 388.97 L671.90 388.28 L672.40 387.65 L672.90 387.10 L673.40 386.63 L673.90 386.28 L674.40 386.06 L674.90 385.97 L675.40 385.91 L675.90 385.86 L676.40 385.81 L676.90 385.78 L677.40 385.75 L677.90 385.72 L678.40 385.70 L678.90 385.67 L679.40 385.62 L679.90 385.57 L680.40 385.52 L680.90 385.47 L681.40 385.45 L681.90 385.45 L682.40 385.49 L682.90 385.57 L683.40 385.70 L683.90 385.92 L684.40 386.23 L684.90 386.57 L685.40 386.92 L685.90 387.25 L686.40 387.59 L686.90 387.93 L687.40 388.26 L687.90 388.57 L688.40 388.84 L688.90 389.06 L689.40 389.19 L689.90 389.16 L690.40 389.02 L690.90 388.85 L691.40 388.61 L691.90 388.31 L692.40 388.02 L692.90 387.82 L693.40 387.75 L693.90 387.76 L694.40 387.82 L694.90 387.89 L695.40 388.05 L695.90 388.32 L696.40 388.74 L696.90 389.45 L697.40 390.56 L697.90 391.88 L698.40 393.53 L698.90 395.10 L699.40 396.18 L699.90 397.03 L700.40 397.74 L700.90 398.42 L701.40 398.83 L701.90 398.87 L702.40 398.88 L702.90 398.88 L703.40 398.87 L703.90 398.85 L704.40 398.83 L704.90 398.81 L705.40 398.78 L705.90 398.75 L706.40 398.73 L706.90 398.71 L707.40 398.70 L707.90 398.72 L708.40 398.77 L708.90 398.83 L709.40 398.91 L709.90 398.98 L710.40 399.05 L710.90 399.10 L711.40 399.17 L711.90 399.08 L712.40 398.48 L712.90 397.54 L713.40 396.60 L713.90 395.79 L714.40 394.98 L714.90 394.17 L715.40 393.33 L715.90 392.48 L716.40 391.63 L716.90 390.78 L717.40 389.92 L717.90 389.07 L718.40 388.22 L718.90 387.37 L719.40 386.60 L719.90 386.05 L720.40 385.65 L720.90 385.35 L721.40 385.10 L721.90 384.89 L722.40 384.75 L722.90 384.69 L723.40 384.67 L723.90 384.65 L724.40 384.63 L724.90 384.64 L725.40 384.66 L725.90 384.70 L726.40 384.76 L726.90 384.83 L727.40 384.90 L727.90 384.97 L728.40 385.04 L728.90 385.09 L729.40 385.13 L729.90 385.17 L730.40 385.21 L730.90 385.25 L731.40 385.28 L731.90 385.31 L732.40 385.33 L732.90 385.35" stroke="#D95319" stroke-width="1"/>
<path d="M527.69 392.21 L527.72 391.81 L527.75 391.41 L527.77 391.02 L527.80 390.62 L527.83 390.22 L527.86 389.82 L527.89 389.42 L527.93 389.02 L527.98 388.63 L528.04 388.23 L528.09 387.83 L528.14 387.44 L528.19 387.04 L528.25 386.64 L528.30 386.25 L528.35 385.85 L528.41 385.45 L528.46 385.06 L528.51 384.66 L528.56 384.26 L528.62 383.87 L528.67 383.47 L528.72 383.08 L528.78 382.68 L528.83 382.28 L528.88 381.89 L528.97 381.50 L529.08 381.11 L529.19 380.73 L529.29 380.34 L529.40 379.96 L529.51 379.57 L529.62 379.19 L529.73 378.80 L529.95 378.50 L530.28 378.27 L530.60 378.03 L530.75 378.33 L530.88 378.71 L531.00 379.09 L531.12 379.47 L531.24 379.85 L531.36 380.23 L531.49 380.61 L531.61 380.99 L531.68 381.39 L531.72 381.78 L531.77 382.18 L531.81 382.58 L531.86 382.98 L531.90 383.37 L531.94 383.77 L531.99 384.17 L532.03 384.57 L532.08 384.96 L532.12 385.36 L532.16 385.76 L532.21 386.16 L532.25 386.55 L532.29 386.95 L532.32 387.35 L532.35 387.75 L532.38 388.15 L532.41 388.55 L532.44 388.95 M535.25 388.72 L535.28 388.32 L535.31 387.93 L535.34 387.53 L535.37 387.13 L535.40 386.73 L535.44 386.33 L535.48 385.93 L535.52 385.54 L535.56 385.14 L535.60 384.74 L535.64 384.34 L535.68 383.94 L535.72 383.55 L535.76 383.15 L535.80 382.75 L535.84 382.35 L535.88 381.95 L535.92 381.56 L535.96 381.16 L536.00 380.76 L536.04 380.36 L536.08 379.96 L536.12 379.57 L536.16 379.17 L536.20 378.77 L536.24 378.37 L536.28 377.97 L536.34 377.58 L536.41 377.18 L536.47 376.79 L536.53 376.39 L536.60 376.00 L536.66 375.60 L536.72 375.21 L536.78 374.81 L536.85 374.42 L536.91 374.02 L536.97 373.63 L537.04 373.23 L537.10 372.84 L537.16 372.44 L537.23 372.05 L537.33 371.67 L537.54 371.33 L537.75 370.99 L537.95 370.65 L538.16 370.30 L538.36 370.29 L538.55 370.64 L538.74 371.00 L538.93 371.35 L539.12 371.70 L539.21 372.09 L539.28 372.48 L539.35 372.88 L539.42 373.27 L539.49 373.66 L539.55 374.06 L539.62 374.45 L539.69 374.85 L539.76 375.24 L539.83 375.63 L539.90 376.03 L539.97 376.42 L540.04 376.82 L540.10 377.21 L540.16 377.61 L540.23 378.00 L540.29 378.40 L540.35 378.79 L540.41 379.19 L540.48 379.58 L540.54 379.98 L540.60 380.37 L540.67 380.77 L540.73 381.16 L540.79 381.56 L540.86 381.95 L540.92 382.35 L540.98 382.74 L541.05 383.13 L541.14 383.53 L541.23 383.92 L541.32 384.31 L541.40 384.70 L541.49 385.09 L541.58 385.48 L541.66 385.87 L541.75 386.26 L541.84 386.65 L541.92 387.04 L542.01 387.43 M545.47 386.82 L545.58 386.44 L545.69 386.05 L545.80 385.67 L545.91 385.28 L546.02 384.90 L546.23 384.56 L546.46 384.23 L546.68 383.90 L546.90 383.56 L547.12 383.23 L547.32 383.12 L547.45 383.49 L547.58 383.87 L547.71 384.25 L547.84 384.63 L547.98 385.00 L548.11 385.38 L548.20 385.77 L548.28 386.16 L548.36 386.55 L548.44 386.95 M553.12 385.67 L553.19 385.28 L553.27 384.89 L553.35 384.49 L553.43 384.10 L553.51 383.71 L553.59 383.32 L553.67 382.92 L553.74 382.53 L553.82 382.14 L553.90 381.75 L554.08 381.39 L554.26 381.03 L554.44 380.67 L554.62 380.32 L554.80 379.96 L554.97 379.60 L555.15 379.26 L555.38 379.59 L555.60 379.92 L555.82 380.25 L556.04 380.59 L556.26 380.92 L556.44 381.27 L556.55 381.66 L556.66 382.04 L556.77 382.43 L556.88 382.81 L556.99 383.20 L557.10 383.58 L557.21 383.96 L557.32 384.35 L557.43 384.73 L557.54 385.12 L557.65 385.50 L557.72 385.90 L557.79 386.29 L557.86 386.69 L557.93 387.08 L558.00 387.47 L558.06 387.87 L558.13 388.26 L558.20 388.66 L558.27 389.05 L558.34 389.44 L558.41 389.84 L558.48 390.23 L558.54 390.63 L558.60 391.02 L558.65 391.42 L558.71 391.81 L558.76 392.21 L558.82 392.61 L558.88 393.00" stroke="#000" stroke-width="2.0" stroke-linecap="round"/>
</g>
<g stroke="#3a3a3a" stroke-width="1.15" fill="none">
<path d="M422.80 282.50 V488.00 H733.00 V282.50"/>
<path d="M422.80 488.00 v-3.20 M422.80 282.50 v3.20 M474.50 488.00 v-3.20 M474.50 282.50 v3.20 M526.20 488.00 v-3.20 M526.20 282.50 v3.20 M577.90 488.00 v-3.20 M577.90 282.50 v3.20 M629.60 488.00 v-3.20 M629.60 282.50 v3.20 M681.30 488.00 v-3.20 M681.30 282.50 v3.20 M733.00 488.00 v-3.20 M733.00 282.50 v3.20 M422.80 488.00 h3.20 M733.00 488.00 h-3.20 M422.80 456.38 h3.20 M733.00 456.38 h-3.20 M422.80 424.77 h3.20 M733.00 424.77 h-3.20 M422.80 393.15 h3.20 M733.00 393.15 h-3.20 M422.80 361.54 h3.20 M733.00 361.54 h-3.20 M422.80 329.92 h3.20 M733.00 329.92 h-3.20 M422.80 298.31 h3.20 M733.00 298.31 h-3.20 "/>
</g>
<g class="t" font-size="13.3">
<text transform="translate(422.80 506.30) scale(1.050 1)" text-anchor="middle">0</text>
<text transform="translate(474.50 506.30) scale(1.050 1)" text-anchor="middle">20</text>
<text transform="translate(526.20 506.30) scale(1.050 1)" text-anchor="middle">40</text>
<text transform="translate(577.90 506.30) scale(1.050 1)" text-anchor="middle">60</text>
<text transform="translate(629.60 506.30) scale(1.050 1)" text-anchor="middle">80</text>
<text transform="translate(681.30 506.30) scale(1.050 1)" text-anchor="middle">100</text>
<text transform="translate(733.00 506.30) scale(1.050 1)" text-anchor="middle">120</text>
<text transform="translate(417.60 493.00) scale(1.050 1)" text-anchor="end">100</text>
<text transform="translate(417.60 461.38) scale(1.050 1)" text-anchor="end">120</text>
<text transform="translate(417.60 429.77) scale(1.050 1)" text-anchor="end">140</text>
<text transform="translate(417.60 398.15) scale(1.050 1)" text-anchor="end">160</text>
<text transform="translate(417.60 366.54) scale(1.050 1)" text-anchor="end">180</text>
<text transform="translate(417.60 334.92) scale(1.050 1)" text-anchor="end">200</text>
<text transform="translate(417.60 303.31) scale(1.050 1)" text-anchor="end">220</text>
<text transform="translate(577.90 525.40) scale(1.050 1)" text-anchor="middle">Time (s)</text>
<text transform="translate(388.10 386.05) rotate(-90) scale(1.050 1)" text-anchor="middle">Amplitude (dB)</text>
<rect x="427.20" y="287.10" width="129.40" height="56.80" fill="#fff" stroke="#3a3a3a" stroke-width="0.75"/>
<path d="M429.60 297.50 h26" stroke="#0072BD" stroke-width="1"/>
<path d="M429.60 315.70 h26" stroke="#D95319" stroke-width="1"/>
<circle cx="442.60" cy="333.80" r="1.0" fill="#000" stroke="none"/>
<text transform="translate(457.10 302.30) scale(1.050 1)">Power signal</text>
<text transform="translate(457.10 320.50) scale(1.050 1)">Threshold</text>
<text transform="translate(457.10 338.70) scale(1.050 1)">Detected signal</text>
</g>
<text x="558.10" y="556.30" class="cap" text-anchor="middle">(d)</text>
</svg>
</body></html>
